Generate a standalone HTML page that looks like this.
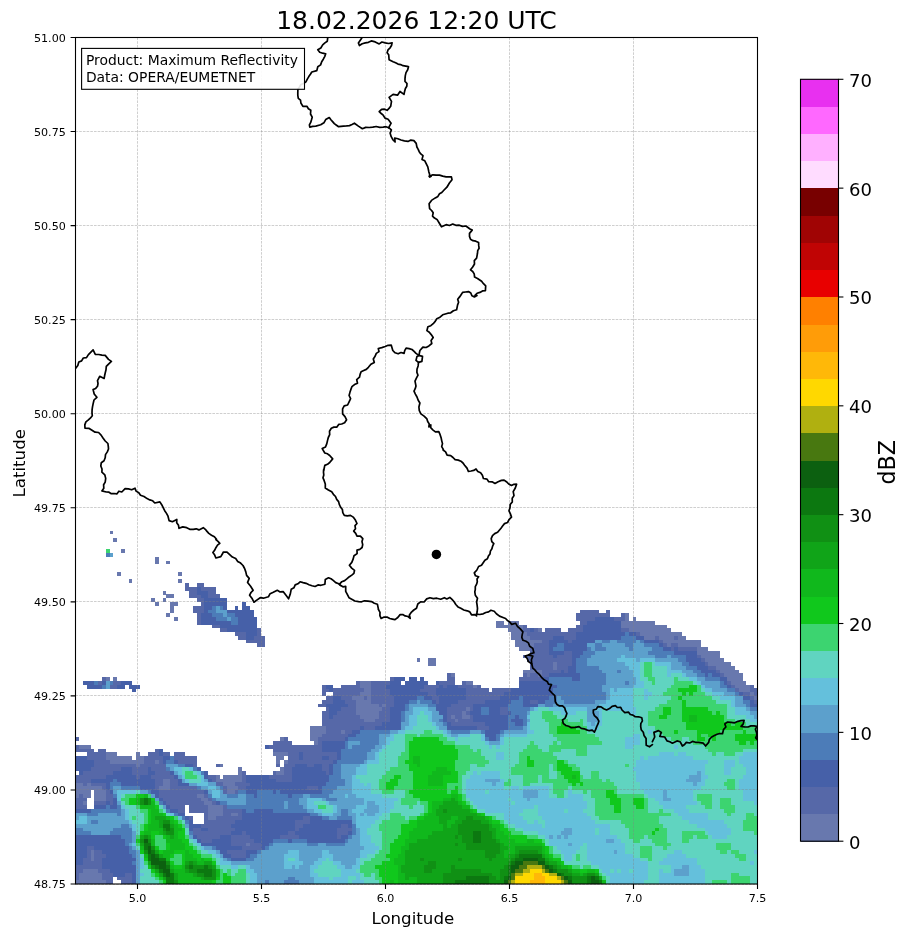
<!DOCTYPE html>
<html lang="en"><head><meta charset="utf-8"><title>Radar Maximum Reflectivity</title>
<style>html,body{margin:0;padding:0;background:#fff}svg{display:block}text{font-family:"DejaVu Sans","Liberation Sans",sans-serif;fill:#000}</style></head><body>
<svg width="908" height="937" viewBox="0 0 908 937">
<rect width="908" height="937" fill="#fff"/>
<defs><clipPath id="ax"><rect x="75.5" y="37.5" width="682.0" height="846.5"/></clipPath></defs>
<g clip-path="url(#ax)" shape-rendering="crispEdges">
<path fill="#6878ae" d="M75.50 880.24h30.32v3.81h-30.32zM79.29 876.48h22.74v3.81h-22.74zM79.29 872.72h22.74v3.81h-22.74zM83.08 868.96h15.16v3.81h-15.16zM90.66 857.68h3.79v3.81h-3.79zM90.66 853.92h3.79v3.81h-3.79zM90.66 850.16h3.79v3.81h-3.79zM246.05 842.64h3.79v3.81h-3.79zM208.15 816.32h7.58v3.81h-7.58zM208.15 812.56h15.16v3.81h-15.16zM230.89 812.56h7.58v3.81h-7.58zM208.15 808.80h15.16v3.81h-15.16zM208.15 805.04h15.16v3.81h-15.16zM83.08 801.28h3.79v3.81h-3.79zM204.36 801.28h7.58v3.81h-7.58zM94.45 797.52h11.37v3.81h-11.37zM200.57 797.52h7.58v3.81h-7.58zM75.50 793.76h3.79v3.81h-3.79zM83.08 793.76h7.58v3.81h-7.58zM94.45 793.76h11.37v3.81h-11.37zM196.78 793.76h7.58v3.81h-7.58zM75.50 790.00h15.16v3.81h-15.16zM94.45 790.00h11.37v3.81h-11.37zM227.10 790.00h7.58v3.81h-7.58zM75.50 786.24h26.53v3.81h-26.53zM158.88 786.24h11.37v3.81h-11.37zM227.10 786.24h11.37v3.81h-11.37zM75.50 782.48h7.58v3.81h-7.58zM86.87 782.48h3.79v3.81h-3.79zM162.67 782.48h7.58v3.81h-7.58zM223.31 782.48h11.37v3.81h-11.37zM162.67 778.72h7.58v3.81h-7.58zM215.73 778.72h26.53v3.81h-26.53zM215.73 774.96h3.79v3.81h-3.79zM223.31 774.96h18.95v3.81h-18.95zM238.47 771.20h3.79v3.81h-3.79zM276.37 771.20h7.58v3.81h-7.58zM238.47 767.44h3.79v3.81h-3.79zM280.16 767.44h3.79v3.81h-3.79zM136.14 763.68h3.79v3.81h-3.79zM219.52 763.68h3.79v3.81h-3.79zM109.61 759.92h34.11v3.81h-34.11zM155.09 759.92h3.79v3.81h-3.79zM276.37 759.92h3.79v3.81h-3.79zM283.95 759.92h3.79v3.81h-3.79zM105.82 756.16h26.53v3.81h-26.53zM136.14 756.16h7.58v3.81h-7.58zM276.37 756.16h7.58v3.81h-7.58zM105.82 752.40h11.37v3.81h-11.37zM136.14 752.40h3.79v3.81h-3.79zM272.58 752.40h15.16v3.81h-15.16zM79.29 744.88h11.37v3.81h-11.37zM314.27 741.12h3.79v3.81h-3.79zM280.16 737.36h3.79v3.81h-3.79zM310.48 737.36h7.58v3.81h-7.58zM310.48 733.60h11.37v3.81h-11.37zM310.48 729.84h15.16v3.81h-15.16zM340.80 729.84h3.79v3.81h-3.79zM310.48 726.08h15.16v3.81h-15.16zM363.54 718.56h11.37v3.81h-11.37zM454.50 718.56h3.79v3.81h-3.79zM359.75 714.80h18.95v3.81h-18.95zM450.71 714.80h3.79v3.81h-3.79zM462.08 714.80h7.58v3.81h-7.58zM355.96 711.04h22.74v3.81h-22.74zM462.08 711.04h3.79v3.81h-3.79zM355.96 707.28h26.53v3.81h-26.53zM465.87 707.28h3.79v3.81h-3.79zM355.96 703.52h22.74v3.81h-22.74zM382.49 703.52h3.79v3.81h-3.79zM355.96 699.76h15.16v3.81h-15.16zM352.17 696.00h11.37v3.81h-11.37zM367.33 696.00h3.79v3.81h-3.79zM753.91 696.00h3.79v3.81h-3.79zM359.75 692.24h11.37v3.81h-11.37zM750.12 692.24h3.79v3.81h-3.79zM363.54 688.48h7.58v3.81h-7.58zM738.75 688.48h11.37v3.81h-11.37zM359.75 684.72h11.37v3.81h-11.37zM473.45 684.72h3.79v3.81h-3.79zM734.96 684.72h15.16v3.81h-15.16zM359.75 680.96h11.37v3.81h-11.37zM465.87 680.96h7.58v3.81h-7.58zM731.17 680.96h15.16v3.81h-15.16zM105.82 677.20h3.79v3.81h-3.79zM113.40 677.20h3.79v3.81h-3.79zM727.38 677.20h15.16v3.81h-15.16zM450.71 673.44h3.79v3.81h-3.79zM526.51 673.44h3.79v3.81h-3.79zM537.88 673.44h3.79v3.81h-3.79zM723.59 673.44h18.95v3.81h-18.95zM522.72 669.68h18.95v3.81h-18.95zM719.80 669.68h18.95v3.81h-18.95zM553.04 665.92h3.79v3.81h-3.79zM716.01 665.92h18.95v3.81h-18.95zM427.97 662.16h7.58v3.81h-7.58zM553.04 662.16h3.79v3.81h-3.79zM708.43 662.16h22.74v3.81h-22.74zM416.60 658.40h3.79v3.81h-3.79zM427.97 658.40h7.58v3.81h-7.58zM704.64 658.40h18.95v3.81h-18.95zM700.85 654.64h18.95v3.81h-18.95zM697.06 650.88h22.74v3.81h-22.74zM518.93 647.12h11.37v3.81h-11.37zM697.06 647.12h11.37v3.81h-11.37zM515.14 643.36h18.95v3.81h-18.95zM666.74 643.36h3.79v3.81h-3.79zM678.11 643.36h22.74v3.81h-22.74zM515.14 639.60h26.53v3.81h-26.53zM662.95 639.60h37.90v3.81h-37.90zM511.35 635.84h18.95v3.81h-18.95zM644.00 635.84h11.37v3.81h-11.37zM659.16 635.84h15.16v3.81h-15.16zM678.11 635.84h7.58v3.81h-7.58zM511.35 632.08h15.16v3.81h-15.16zM640.21 632.08h41.69v3.81h-41.69zM507.56 628.32h15.16v3.81h-15.16zM537.88 628.32h3.79v3.81h-3.79zM628.84 628.32h41.69v3.81h-41.69zM496.19 624.56h26.53v3.81h-26.53zM621.26 624.56h45.48v3.81h-45.48zM496.19 620.80h7.58v3.81h-7.58zM507.56 620.80h11.37v3.81h-11.37zM621.26 620.80h34.11v3.81h-34.11zM174.04 617.04h3.79v3.81h-3.79zM625.05 617.04h3.79v3.81h-3.79zM632.63 617.04h3.79v3.81h-3.79zM166.46 613.28h3.79v3.81h-3.79zM625.05 613.28h3.79v3.81h-3.79zM170.25 609.52h3.79v3.81h-3.79zM170.25 605.76h3.79v3.81h-3.79zM155.09 602.00h3.79v3.81h-3.79zM170.25 602.00h7.58v3.81h-7.58zM151.30 598.24h3.79v3.81h-3.79zM162.67 598.24h3.79v3.81h-3.79zM166.46 594.48h7.58v3.81h-7.58zM162.67 590.72h3.79v3.81h-3.79zM128.56 579.44h3.79v3.81h-3.79zM177.83 579.44h3.79v3.81h-3.79zM117.19 571.92h3.79v3.81h-3.79zM177.83 571.92h3.79v3.81h-3.79zM155.09 560.64h3.79v3.81h-3.79zM166.46 560.64h3.79v3.81h-3.79zM155.09 556.88h3.79v3.81h-3.79zM120.98 549.36h3.79v3.81h-3.79zM113.40 538.08h3.79v3.81h-3.79zM109.61 530.56h3.79v3.81h-3.79z"/>
<path fill="#5668a8" d="M105.82 880.24h7.58v3.81h-7.58zM120.98 880.24h11.37v3.81h-11.37zM75.50 876.48h3.79v3.81h-3.79zM102.03 876.48h11.37v3.81h-11.37zM117.19 876.48h15.16v3.81h-15.16zM75.50 872.72h3.79v3.81h-3.79zM102.03 872.72h11.37v3.81h-11.37zM124.77 872.72h7.58v3.81h-7.58zM75.50 868.96h7.58v3.81h-7.58zM98.24 868.96h11.37v3.81h-11.37zM75.50 865.20h26.53v3.81h-26.53zM83.08 861.44h18.95v3.81h-18.95zM83.08 857.68h7.58v3.81h-7.58zM94.45 857.68h7.58v3.81h-7.58zM86.87 853.92h3.79v3.81h-3.79zM94.45 853.92h11.37v3.81h-11.37zM230.89 853.92h15.16v3.81h-15.16zM86.87 850.16h3.79v3.81h-3.79zM94.45 850.16h7.58v3.81h-7.58zM227.10 850.16h18.95v3.81h-18.95zM86.87 846.40h7.58v3.81h-7.58zM242.26 846.40h18.95v3.81h-18.95zM230.89 842.64h15.16v3.81h-15.16zM249.84 842.64h11.37v3.81h-11.37zM200.57 838.88h11.37v3.81h-11.37zM230.89 838.88h22.74v3.81h-22.74zM196.78 835.12h22.74v3.81h-22.74zM230.89 835.12h18.95v3.81h-18.95zM280.16 835.12h18.95v3.81h-18.95zM337.01 835.12h3.79v3.81h-3.79zM192.99 831.36h37.90v3.81h-37.90zM242.26 831.36h3.79v3.81h-3.79zM287.74 831.36h7.58v3.81h-7.58zM337.01 831.36h11.37v3.81h-11.37zM192.99 827.60h7.58v3.81h-7.58zM208.15 827.60h26.53v3.81h-26.53zM295.32 827.60h3.79v3.81h-3.79zM337.01 827.60h15.16v3.81h-15.16zM200.57 823.84h30.32v3.81h-30.32zM295.32 823.84h7.58v3.81h-7.58zM340.80 823.84h7.58v3.81h-7.58zM204.36 820.08h30.32v3.81h-30.32zM295.32 820.08h15.16v3.81h-15.16zM189.20 816.32h3.79v3.81h-3.79zM204.36 816.32h3.79v3.81h-3.79zM215.73 816.32h26.53v3.81h-26.53zM302.90 816.32h7.58v3.81h-7.58zM204.36 812.56h3.79v3.81h-3.79zM223.31 812.56h7.58v3.81h-7.58zM238.47 812.56h3.79v3.81h-3.79zM177.83 808.80h7.58v3.81h-7.58zM189.20 808.80h18.95v3.81h-18.95zM223.31 808.80h18.95v3.81h-18.95zM75.50 805.04h11.37v3.81h-11.37zM170.25 805.04h15.16v3.81h-15.16zM189.20 805.04h18.95v3.81h-18.95zM223.31 805.04h3.79v3.81h-3.79zM75.50 801.28h7.58v3.81h-7.58zM94.45 801.28h11.37v3.81h-11.37zM109.61 801.28h3.79v3.81h-3.79zM166.46 801.28h37.90v3.81h-37.90zM211.94 801.28h3.79v3.81h-3.79zM75.50 797.52h11.37v3.81h-11.37zM105.82 797.52h7.58v3.81h-7.58zM162.67 797.52h37.90v3.81h-37.90zM208.15 797.52h3.79v3.81h-3.79zM79.29 793.76h3.79v3.81h-3.79zM105.82 793.76h7.58v3.81h-7.58zM158.88 793.76h37.90v3.81h-37.90zM204.36 793.76h3.79v3.81h-3.79zM105.82 790.00h3.79v3.81h-3.79zM158.88 790.00h45.48v3.81h-45.48zM223.31 790.00h3.79v3.81h-3.79zM234.68 790.00h3.79v3.81h-3.79zM102.03 786.24h3.79v3.81h-3.79zM155.09 786.24h3.79v3.81h-3.79zM170.25 786.24h26.53v3.81h-26.53zM223.31 786.24h3.79v3.81h-3.79zM238.47 786.24h7.58v3.81h-7.58zM306.69 786.24h11.37v3.81h-11.37zM83.08 782.48h3.79v3.81h-3.79zM90.66 782.48h15.16v3.81h-15.16zM155.09 782.48h7.58v3.81h-7.58zM170.25 782.48h7.58v3.81h-7.58zM215.73 782.48h7.58v3.81h-7.58zM234.68 782.48h15.16v3.81h-15.16zM75.50 778.72h15.16v3.81h-15.16zM155.09 778.72h7.58v3.81h-7.58zM170.25 778.72h7.58v3.81h-7.58zM211.94 778.72h3.79v3.81h-3.79zM242.26 778.72h3.79v3.81h-3.79zM276.37 778.72h15.16v3.81h-15.16zM75.50 774.96h30.32v3.81h-30.32zM136.14 774.96h3.79v3.81h-3.79zM151.30 774.96h22.74v3.81h-22.74zM208.15 774.96h7.58v3.81h-7.58zM242.26 774.96h3.79v3.81h-3.79zM268.79 774.96h22.74v3.81h-22.74zM83.08 771.20h30.32v3.81h-30.32zM132.35 771.20h15.16v3.81h-15.16zM155.09 771.20h15.16v3.81h-15.16zM242.26 771.20h3.79v3.81h-3.79zM272.58 771.20h3.79v3.81h-3.79zM283.95 771.20h7.58v3.81h-7.58zM325.64 771.20h3.79v3.81h-3.79zM90.66 767.44h30.32v3.81h-30.32zM132.35 767.44h15.16v3.81h-15.16zM151.30 767.44h15.16v3.81h-15.16zM283.95 767.44h7.58v3.81h-7.58zM321.85 767.44h7.58v3.81h-7.58zM94.45 763.68h41.69v3.81h-41.69zM139.93 763.68h26.53v3.81h-26.53zM192.99 763.68h3.79v3.81h-3.79zM215.73 763.68h3.79v3.81h-3.79zM276.37 763.68h3.79v3.81h-3.79zM283.95 763.68h11.37v3.81h-11.37zM306.69 763.68h7.58v3.81h-7.58zM321.85 763.68h7.58v3.81h-7.58zM94.45 759.92h15.16v3.81h-15.16zM143.72 759.92h11.37v3.81h-11.37zM158.88 759.92h3.79v3.81h-3.79zM177.83 759.92h18.95v3.81h-18.95zM287.74 759.92h45.48v3.81h-45.48zM86.87 756.16h18.95v3.81h-18.95zM143.72 756.16h18.95v3.81h-18.95zM174.04 756.16h22.74v3.81h-22.74zM287.74 756.16h11.37v3.81h-11.37zM302.90 756.16h18.95v3.81h-18.95zM329.43 756.16h7.58v3.81h-7.58zM86.87 752.40h18.95v3.81h-18.95zM147.51 752.40h11.37v3.81h-11.37zM162.67 752.40h7.58v3.81h-7.58zM174.04 752.40h11.37v3.81h-11.37zM287.74 752.40h11.37v3.81h-11.37zM302.90 752.40h34.11v3.81h-34.11zM75.50 748.64h18.95v3.81h-18.95zM98.24 748.64h7.58v3.81h-7.58zM155.09 748.64h3.79v3.81h-3.79zM272.58 748.64h49.27v3.81h-49.27zM75.50 744.88h3.79v3.81h-3.79zM268.79 744.88h53.06v3.81h-53.06zM272.58 741.12h18.95v3.81h-18.95zM318.06 741.12h3.79v3.81h-3.79zM75.50 737.36h3.79v3.81h-3.79zM283.95 737.36h3.79v3.81h-3.79zM318.06 737.36h26.53v3.81h-26.53zM321.85 733.60h26.53v3.81h-26.53zM325.64 729.84h15.16v3.81h-15.16zM344.59 729.84h7.58v3.81h-7.58zM325.64 726.08h34.11v3.81h-34.11zM363.54 726.08h11.37v3.81h-11.37zM477.24 726.08h11.37v3.81h-11.37zM321.85 722.32h60.64v3.81h-60.64zM450.71 722.32h34.11v3.81h-34.11zM321.85 718.56h41.69v3.81h-41.69zM374.91 718.56h15.16v3.81h-15.16zM446.92 718.56h7.58v3.81h-7.58zM458.29 718.56h15.16v3.81h-15.16zM321.85 714.80h7.58v3.81h-7.58zM333.22 714.80h26.53v3.81h-26.53zM378.70 714.80h11.37v3.81h-11.37zM446.92 714.80h3.79v3.81h-3.79zM454.50 714.80h7.58v3.81h-7.58zM469.66 714.80h3.79v3.81h-3.79zM321.85 711.04h7.58v3.81h-7.58zM337.01 711.04h18.95v3.81h-18.95zM378.70 711.04h11.37v3.81h-11.37zM446.92 711.04h15.16v3.81h-15.16zM465.87 711.04h3.79v3.81h-3.79zM499.98 711.04h7.58v3.81h-7.58zM325.64 707.28h3.79v3.81h-3.79zM340.80 707.28h15.16v3.81h-15.16zM382.49 707.28h7.58v3.81h-7.58zM446.92 707.28h18.95v3.81h-18.95zM469.66 707.28h3.79v3.81h-3.79zM499.98 707.28h7.58v3.81h-7.58zM318.06 703.52h7.58v3.81h-7.58zM348.38 703.52h7.58v3.81h-7.58zM378.70 703.52h3.79v3.81h-3.79zM386.28 703.52h7.58v3.81h-7.58zM450.71 703.52h22.74v3.81h-22.74zM321.85 699.76h11.37v3.81h-11.37zM344.59 699.76h11.37v3.81h-11.37zM371.12 699.76h22.74v3.81h-22.74zM435.55 699.76h3.79v3.81h-3.79zM458.29 699.76h26.53v3.81h-26.53zM530.30 699.76h7.58v3.81h-7.58zM753.91 699.76h3.79v3.81h-3.79zM325.64 696.00h7.58v3.81h-7.58zM340.80 696.00h11.37v3.81h-11.37zM363.54 696.00h3.79v3.81h-3.79zM371.12 696.00h22.74v3.81h-22.74zM431.76 696.00h7.58v3.81h-7.58zM465.87 696.00h34.11v3.81h-34.11zM750.12 696.00h3.79v3.81h-3.79zM321.85 692.24h3.79v3.81h-3.79zM333.22 692.24h26.53v3.81h-26.53zM371.12 692.24h18.95v3.81h-18.95zM427.97 692.24h7.58v3.81h-7.58zM465.87 692.24h37.90v3.81h-37.90zM742.54 692.24h7.58v3.81h-7.58zM753.91 692.24h3.79v3.81h-3.79zM321.85 688.48h7.58v3.81h-7.58zM333.22 688.48h30.32v3.81h-30.32zM371.12 688.48h18.95v3.81h-18.95zM420.39 688.48h15.16v3.81h-15.16zM465.87 688.48h22.74v3.81h-22.74zM492.40 688.48h18.95v3.81h-18.95zM734.96 688.48h3.79v3.81h-3.79zM750.12 688.48h7.58v3.81h-7.58zM109.61 684.72h7.58v3.81h-7.58zM321.85 684.72h3.79v3.81h-3.79zM340.80 684.72h18.95v3.81h-18.95zM371.12 684.72h15.16v3.81h-15.16zM424.18 684.72h15.16v3.81h-15.16zM443.13 684.72h3.79v3.81h-3.79zM458.29 684.72h15.16v3.81h-15.16zM477.24 684.72h3.79v3.81h-3.79zM731.17 684.72h3.79v3.81h-3.79zM750.12 684.72h3.79v3.81h-3.79zM98.24 680.96h3.79v3.81h-3.79zM113.40 680.96h7.58v3.81h-7.58zM355.96 680.96h3.79v3.81h-3.79zM371.12 680.96h18.95v3.81h-18.95zM439.34 680.96h15.16v3.81h-15.16zM462.08 680.96h3.79v3.81h-3.79zM727.38 680.96h3.79v3.81h-3.79zM102.03 677.20h3.79v3.81h-3.79zM390.07 677.20h3.79v3.81h-3.79zM446.92 677.20h7.58v3.81h-7.58zM518.93 677.20h22.74v3.81h-22.74zM446.92 673.44h3.79v3.81h-3.79zM522.72 673.44h3.79v3.81h-3.79zM530.30 673.44h7.58v3.81h-7.58zM541.67 673.44h7.58v3.81h-7.58zM719.80 673.44h3.79v3.81h-3.79zM541.67 669.68h18.95v3.81h-18.95zM564.41 669.68h3.79v3.81h-3.79zM716.01 669.68h3.79v3.81h-3.79zM530.30 665.92h22.74v3.81h-22.74zM556.83 665.92h11.37v3.81h-11.37zM708.43 665.92h7.58v3.81h-7.58zM530.30 662.16h22.74v3.81h-22.74zM556.83 662.16h15.16v3.81h-15.16zM704.64 662.16h3.79v3.81h-3.79zM526.51 658.40h45.48v3.81h-45.48zM700.85 658.40h3.79v3.81h-3.79zM522.72 654.64h30.32v3.81h-30.32zM556.83 654.64h15.16v3.81h-15.16zM697.06 654.64h3.79v3.81h-3.79zM530.30 650.88h18.95v3.81h-18.95zM564.41 650.88h7.58v3.81h-7.58zM530.30 647.12h18.95v3.81h-18.95zM670.53 647.12h3.79v3.81h-3.79zM678.11 647.12h18.95v3.81h-18.95zM257.42 643.36h7.58v3.81h-7.58zM534.09 643.36h15.16v3.81h-15.16zM662.95 643.36h3.79v3.81h-3.79zM670.53 643.36h7.58v3.81h-7.58zM246.05 639.60h18.95v3.81h-18.95zM541.67 639.60h7.58v3.81h-7.58zM568.20 639.60h3.79v3.81h-3.79zM659.16 639.60h3.79v3.81h-3.79zM238.47 635.84h7.58v3.81h-7.58zM253.63 635.84h11.37v3.81h-11.37zM530.30 635.84h22.74v3.81h-22.74zM564.41 635.84h11.37v3.81h-11.37zM655.37 635.84h3.79v3.81h-3.79zM674.32 635.84h3.79v3.81h-3.79zM234.68 632.08h11.37v3.81h-11.37zM257.42 632.08h3.79v3.81h-3.79zM526.51 632.08h49.27v3.81h-49.27zM636.42 632.08h3.79v3.81h-3.79zM219.52 628.32h7.58v3.81h-7.58zM257.42 628.32h3.79v3.81h-3.79zM522.72 628.32h7.58v3.81h-7.58zM534.09 628.32h3.79v3.81h-3.79zM545.46 628.32h15.16v3.81h-15.16zM568.20 628.32h15.16v3.81h-15.16zM621.26 628.32h7.58v3.81h-7.58zM211.94 624.56h7.58v3.81h-7.58zM522.72 624.56h3.79v3.81h-3.79zM575.78 624.56h7.58v3.81h-7.58zM196.78 620.80h3.79v3.81h-3.79zM579.57 620.80h7.58v3.81h-7.58zM196.78 617.04h3.79v3.81h-3.79zM575.78 617.04h18.95v3.81h-18.95zM613.68 617.04h11.37v3.81h-11.37zM196.78 613.28h3.79v3.81h-3.79zM575.78 613.28h34.11v3.81h-34.11zM621.26 613.28h3.79v3.81h-3.79zM192.99 609.52h11.37v3.81h-11.37zM579.57 609.52h18.95v3.81h-18.95zM606.10 609.52h3.79v3.81h-3.79zM192.99 605.76h11.37v3.81h-11.37zM200.57 602.00h3.79v3.81h-3.79zM196.78 598.24h7.58v3.81h-7.58zM189.20 594.48h11.37v3.81h-11.37zM208.15 594.48h11.37v3.81h-11.37zM189.20 590.72h7.58v3.81h-7.58zM208.15 590.72h7.58v3.81h-7.58zM185.41 586.96h11.37v3.81h-11.37zM200.57 586.96h15.16v3.81h-15.16zM185.41 583.20h3.79v3.81h-3.79zM196.78 583.20h7.58v3.81h-7.58z"/>
<path fill="#4660a8" d="M132.35 880.24h3.79v3.81h-3.79zM132.35 876.48h3.79v3.81h-3.79zM113.40 872.72h11.37v3.81h-11.37zM132.35 872.72h3.79v3.81h-3.79zM109.61 868.96h26.53v3.81h-26.53zM102.03 865.20h34.11v3.81h-34.11zM75.50 861.44h7.58v3.81h-7.58zM102.03 861.44h30.32v3.81h-30.32zM75.50 857.68h7.58v3.81h-7.58zM102.03 857.68h34.11v3.81h-34.11zM230.89 857.68h15.16v3.81h-15.16zM75.50 853.92h11.37v3.81h-11.37zM105.82 853.92h26.53v3.81h-26.53zM223.31 853.92h7.58v3.81h-7.58zM246.05 853.92h3.79v3.81h-3.79zM75.50 850.16h11.37v3.81h-11.37zM102.03 850.16h26.53v3.81h-26.53zM219.52 850.16h7.58v3.81h-7.58zM246.05 850.16h11.37v3.81h-11.37zM75.50 846.40h11.37v3.81h-11.37zM94.45 846.40h34.11v3.81h-34.11zM215.73 846.40h26.53v3.81h-26.53zM261.21 846.40h3.79v3.81h-3.79zM75.50 842.64h49.27v3.81h-49.27zM200.57 842.64h30.32v3.81h-30.32zM261.21 842.64h7.58v3.81h-7.58zM75.50 838.88h49.27v3.81h-49.27zM196.78 838.88h3.79v3.81h-3.79zM211.94 838.88h18.95v3.81h-18.95zM253.63 838.88h18.95v3.81h-18.95zM287.74 838.88h3.79v3.81h-3.79zM306.69 838.88h37.90v3.81h-37.90zM75.50 835.12h45.48v3.81h-45.48zM192.99 835.12h3.79v3.81h-3.79zM219.52 835.12h11.37v3.81h-11.37zM249.84 835.12h30.32v3.81h-30.32zM299.11 835.12h37.90v3.81h-37.90zM340.80 835.12h7.58v3.81h-7.58zM230.89 831.36h11.37v3.81h-11.37zM246.05 831.36h41.69v3.81h-41.69zM295.32 831.36h41.69v3.81h-41.69zM348.38 831.36h3.79v3.81h-3.79zM189.20 827.60h3.79v3.81h-3.79zM200.57 827.60h7.58v3.81h-7.58zM234.68 827.60h60.64v3.81h-60.64zM299.11 827.60h37.90v3.81h-37.90zM189.20 823.84h11.37v3.81h-11.37zM230.89 823.84h64.43v3.81h-64.43zM302.90 823.84h37.90v3.81h-37.90zM348.38 823.84h3.79v3.81h-3.79zM189.20 820.08h3.79v3.81h-3.79zM234.68 820.08h60.64v3.81h-60.64zM310.48 820.08h41.69v3.81h-41.69zM185.41 816.32h3.79v3.81h-3.79zM242.26 816.32h60.64v3.81h-60.64zM310.48 816.32h11.37v3.81h-11.37zM177.83 812.56h7.58v3.81h-7.58zM242.26 812.56h68.22v3.81h-68.22zM75.50 808.80h15.16v3.81h-15.16zM170.25 808.80h7.58v3.81h-7.58zM242.26 808.80h3.79v3.81h-3.79zM253.63 808.80h18.95v3.81h-18.95zM94.45 805.04h11.37v3.81h-11.37zM109.61 805.04h7.58v3.81h-7.58zM166.46 805.04h3.79v3.81h-3.79zM105.82 801.28h3.79v3.81h-3.79zM113.40 801.28h3.79v3.81h-3.79zM162.67 801.28h3.79v3.81h-3.79zM215.73 801.28h3.79v3.81h-3.79zM113.40 797.52h3.79v3.81h-3.79zM158.88 797.52h3.79v3.81h-3.79zM155.09 793.76h3.79v3.81h-3.79zM253.63 793.76h3.79v3.81h-3.79zM287.74 793.76h3.79v3.81h-3.79zM109.61 790.00h3.79v3.81h-3.79zM151.30 790.00h7.58v3.81h-7.58zM204.36 790.00h3.79v3.81h-3.79zM246.05 790.00h11.37v3.81h-11.37zM272.58 790.00h3.79v3.81h-3.79zM280.16 790.00h41.69v3.81h-41.69zM105.82 786.24h3.79v3.81h-3.79zM139.93 786.24h15.16v3.81h-15.16zM246.05 786.24h60.64v3.81h-60.64zM318.06 786.24h3.79v3.81h-3.79zM105.82 782.48h3.79v3.81h-3.79zM120.98 782.48h34.11v3.81h-34.11zM177.83 782.48h11.37v3.81h-11.37zM249.84 782.48h75.80v3.81h-75.80zM90.66 778.72h22.74v3.81h-22.74zM117.19 778.72h37.90v3.81h-37.90zM177.83 778.72h3.79v3.81h-3.79zM208.15 778.72h3.79v3.81h-3.79zM246.05 778.72h30.32v3.81h-30.32zM291.53 778.72h37.90v3.81h-37.90zM105.82 774.96h30.32v3.81h-30.32zM139.93 774.96h11.37v3.81h-11.37zM174.04 774.96h3.79v3.81h-3.79zM204.36 774.96h3.79v3.81h-3.79zM246.05 774.96h22.74v3.81h-22.74zM291.53 774.96h37.90v3.81h-37.90zM79.29 771.20h3.79v3.81h-3.79zM113.40 771.20h18.95v3.81h-18.95zM147.51 771.20h7.58v3.81h-7.58zM170.25 771.20h3.79v3.81h-3.79zM204.36 771.20h3.79v3.81h-3.79zM291.53 771.20h34.11v3.81h-34.11zM329.43 771.20h3.79v3.81h-3.79zM75.50 767.44h15.16v3.81h-15.16zM120.98 767.44h11.37v3.81h-11.37zM147.51 767.44h3.79v3.81h-3.79zM196.78 767.44h3.79v3.81h-3.79zM291.53 767.44h30.32v3.81h-30.32zM329.43 767.44h3.79v3.81h-3.79zM75.50 763.68h18.95v3.81h-18.95zM185.41 763.68h7.58v3.81h-7.58zM295.32 763.68h11.37v3.81h-11.37zM314.27 763.68h7.58v3.81h-7.58zM329.43 763.68h3.79v3.81h-3.79zM75.50 759.92h18.95v3.81h-18.95zM162.67 759.92h3.79v3.81h-3.79zM174.04 759.92h3.79v3.81h-3.79zM333.22 759.92h3.79v3.81h-3.79zM75.50 756.16h11.37v3.81h-11.37zM162.67 756.16h7.58v3.81h-7.58zM299.11 756.16h3.79v3.81h-3.79zM321.85 756.16h7.58v3.81h-7.58zM337.01 756.16h3.79v3.81h-3.79zM158.88 752.40h3.79v3.81h-3.79zM299.11 752.40h3.79v3.81h-3.79zM337.01 752.40h3.79v3.81h-3.79zM158.88 748.64h3.79v3.81h-3.79zM321.85 748.64h18.95v3.81h-18.95zM265.00 744.88h3.79v3.81h-3.79zM321.85 744.88h22.74v3.81h-22.74zM321.85 741.12h22.74v3.81h-22.74zM344.59 737.36h3.79v3.81h-3.79zM488.61 737.36h7.58v3.81h-7.58zM348.38 733.60h7.58v3.81h-7.58zM484.82 733.60h11.37v3.81h-11.37zM352.17 729.84h7.58v3.81h-7.58zM484.82 729.84h15.16v3.81h-15.16zM359.75 726.08h3.79v3.81h-3.79zM374.91 726.08h26.53v3.81h-26.53zM446.92 726.08h30.32v3.81h-30.32zM488.61 726.08h18.95v3.81h-18.95zM382.49 722.32h18.95v3.81h-18.95zM446.92 722.32h3.79v3.81h-3.79zM484.82 722.32h22.74v3.81h-22.74zM515.14 722.32h7.58v3.81h-7.58zM390.07 718.56h11.37v3.81h-11.37zM443.13 718.56h3.79v3.81h-3.79zM473.45 718.56h34.11v3.81h-34.11zM511.35 718.56h11.37v3.81h-11.37zM329.43 714.80h3.79v3.81h-3.79zM390.07 714.80h11.37v3.81h-11.37zM443.13 714.80h3.79v3.81h-3.79zM473.45 714.80h34.11v3.81h-34.11zM515.14 714.80h3.79v3.81h-3.79zM329.43 711.04h7.58v3.81h-7.58zM390.07 711.04h11.37v3.81h-11.37zM439.34 711.04h7.58v3.81h-7.58zM469.66 711.04h11.37v3.81h-11.37zM488.61 711.04h11.37v3.81h-11.37zM507.56 711.04h3.79v3.81h-3.79zM329.43 707.28h11.37v3.81h-11.37zM390.07 707.28h15.16v3.81h-15.16zM435.55 707.28h11.37v3.81h-11.37zM473.45 707.28h7.58v3.81h-7.58zM488.61 707.28h11.37v3.81h-11.37zM325.64 703.52h22.74v3.81h-22.74zM393.86 703.52h11.37v3.81h-11.37zM435.55 703.52h15.16v3.81h-15.16zM473.45 703.52h34.11v3.81h-34.11zM522.72 703.52h15.16v3.81h-15.16zM750.12 703.52h7.58v3.81h-7.58zM333.22 699.76h11.37v3.81h-11.37zM393.86 699.76h15.16v3.81h-15.16zM431.76 699.76h3.79v3.81h-3.79zM439.34 699.76h18.95v3.81h-18.95zM484.82 699.76h26.53v3.81h-26.53zM522.72 699.76h7.58v3.81h-7.58zM537.88 699.76h7.58v3.81h-7.58zM750.12 699.76h3.79v3.81h-3.79zM333.22 696.00h7.58v3.81h-7.58zM393.86 696.00h22.74v3.81h-22.74zM424.18 696.00h7.58v3.81h-7.58zM439.34 696.00h26.53v3.81h-26.53zM499.98 696.00h18.95v3.81h-18.95zM522.72 696.00h26.53v3.81h-26.53zM742.54 696.00h7.58v3.81h-7.58zM390.07 692.24h37.90v3.81h-37.90zM435.55 692.24h30.32v3.81h-30.32zM503.77 692.24h49.27v3.81h-49.27zM738.75 692.24h3.79v3.81h-3.79zM132.35 688.48h3.79v3.81h-3.79zM329.43 688.48h3.79v3.81h-3.79zM390.07 688.48h30.32v3.81h-30.32zM435.55 688.48h30.32v3.81h-30.32zM511.35 688.48h41.69v3.81h-41.69zM86.87 684.72h15.16v3.81h-15.16zM117.19 684.72h7.58v3.81h-7.58zM128.56 684.72h11.37v3.81h-11.37zM325.64 684.72h7.58v3.81h-7.58zM386.28 684.72h37.90v3.81h-37.90zM439.34 684.72h3.79v3.81h-3.79zM446.92 684.72h11.37v3.81h-11.37zM518.93 684.72h37.90v3.81h-37.90zM727.38 684.72h3.79v3.81h-3.79zM83.08 680.96h11.37v3.81h-11.37zM102.03 680.96h3.79v3.81h-3.79zM120.98 680.96h11.37v3.81h-11.37zM390.07 680.96h11.37v3.81h-11.37zM405.23 680.96h22.74v3.81h-22.74zM435.55 680.96h3.79v3.81h-3.79zM518.93 680.96h30.32v3.81h-30.32zM723.59 680.96h3.79v3.81h-3.79zM393.86 677.20h11.37v3.81h-11.37zM409.02 677.20h7.58v3.81h-7.58zM420.39 677.20h3.79v3.81h-3.79zM541.67 677.20h7.58v3.81h-7.58zM571.99 677.20h7.58v3.81h-7.58zM719.80 677.20h7.58v3.81h-7.58zM549.25 673.44h30.32v3.81h-30.32zM704.64 673.44h3.79v3.81h-3.79zM712.22 673.44h7.58v3.81h-7.58zM560.62 669.68h3.79v3.81h-3.79zM568.20 669.68h7.58v3.81h-7.58zM700.85 669.68h15.16v3.81h-15.16zM568.20 665.92h7.58v3.81h-7.58zM697.06 665.92h11.37v3.81h-11.37zM571.99 662.16h3.79v3.81h-3.79zM689.48 662.16h15.16v3.81h-15.16zM571.99 658.40h3.79v3.81h-3.79zM685.69 658.40h15.16v3.81h-15.16zM553.04 654.64h3.79v3.81h-3.79zM571.99 654.64h7.58v3.81h-7.58zM685.69 654.64h11.37v3.81h-11.37zM549.25 650.88h15.16v3.81h-15.16zM571.99 650.88h11.37v3.81h-11.37zM674.32 650.88h22.74v3.81h-22.74zM549.25 647.12h3.79v3.81h-3.79zM564.41 647.12h22.74v3.81h-22.74zM662.95 647.12h7.58v3.81h-7.58zM674.32 647.12h3.79v3.81h-3.79zM549.25 643.36h7.58v3.81h-7.58zM564.41 643.36h22.74v3.81h-22.74zM659.16 643.36h3.79v3.81h-3.79zM549.25 639.60h18.95v3.81h-18.95zM571.99 639.60h22.74v3.81h-22.74zM644.00 639.60h15.16v3.81h-15.16zM246.05 635.84h7.58v3.81h-7.58zM553.04 635.84h11.37v3.81h-11.37zM575.78 635.84h45.48v3.81h-45.48zM636.42 635.84h7.58v3.81h-7.58zM246.05 632.08h11.37v3.81h-11.37zM575.78 632.08h49.27v3.81h-49.27zM628.84 632.08h7.58v3.81h-7.58zM227.10 628.32h30.32v3.81h-30.32zM530.30 628.32h3.79v3.81h-3.79zM583.36 628.32h37.90v3.81h-37.90zM219.52 624.56h37.90v3.81h-37.90zM583.36 624.56h37.90v3.81h-37.90zM200.57 620.80h30.32v3.81h-30.32zM238.47 620.80h18.95v3.81h-18.95zM587.15 620.80h34.11v3.81h-34.11zM200.57 617.04h15.16v3.81h-15.16zM238.47 617.04h18.95v3.81h-18.95zM594.73 617.04h18.95v3.81h-18.95zM200.57 613.28h11.37v3.81h-11.37zM234.68 613.28h18.95v3.81h-18.95zM204.36 609.52h3.79v3.81h-3.79zM227.10 609.52h26.53v3.81h-26.53zM204.36 605.76h7.58v3.81h-7.58zM223.31 605.76h3.79v3.81h-3.79zM234.68 605.76h3.79v3.81h-3.79zM242.26 605.76h7.58v3.81h-7.58zM204.36 602.00h22.74v3.81h-22.74zM242.26 602.00h3.79v3.81h-3.79zM204.36 598.24h22.74v3.81h-22.74zM200.57 594.48h7.58v3.81h-7.58zM196.78 590.72h11.37v3.81h-11.37zM196.78 586.96h3.79v3.81h-3.79z"/>
<path fill="#4c7cb8" d="M265.00 880.24h3.79v3.81h-3.79zM283.95 880.24h15.16v3.81h-15.16zM287.74 876.48h7.58v3.81h-7.58zM132.35 861.44h3.79v3.81h-3.79zM227.10 857.68h3.79v3.81h-3.79zM246.05 857.68h7.58v3.81h-7.58zM132.35 853.92h3.79v3.81h-3.79zM249.84 853.92h7.58v3.81h-7.58zM128.56 850.16h7.58v3.81h-7.58zM257.42 850.16h3.79v3.81h-3.79zM128.56 846.40h3.79v3.81h-3.79zM211.94 846.40h3.79v3.81h-3.79zM265.00 846.40h3.79v3.81h-3.79zM124.77 842.64h3.79v3.81h-3.79zM268.79 842.64h3.79v3.81h-3.79zM306.69 842.64h11.37v3.81h-11.37zM325.64 842.64h18.95v3.81h-18.95zM124.77 838.88h7.58v3.81h-7.58zM272.58 838.88h15.16v3.81h-15.16zM291.53 838.88h15.16v3.81h-15.16zM344.59 838.88h3.79v3.81h-3.79zM120.98 835.12h11.37v3.81h-11.37zM348.38 835.12h3.79v3.81h-3.79zM75.50 831.36h15.16v3.81h-15.16zM109.61 831.36h22.74v3.81h-22.74zM189.20 831.36h3.79v3.81h-3.79zM352.17 831.36h3.79v3.81h-3.79zM75.50 827.60h7.58v3.81h-7.58zM113.40 827.60h18.95v3.81h-18.95zM352.17 827.60h3.79v3.81h-3.79zM120.98 823.84h7.58v3.81h-7.58zM352.17 823.84h3.79v3.81h-3.79zM90.66 820.08h7.58v3.81h-7.58zM185.41 820.08h3.79v3.81h-3.79zM181.62 816.32h3.79v3.81h-3.79zM321.85 816.32h7.58v3.81h-7.58zM337.01 816.32h15.16v3.81h-15.16zM86.87 812.56h11.37v3.81h-11.37zM117.19 812.56h3.79v3.81h-3.79zM174.04 812.56h3.79v3.81h-3.79zM310.48 812.56h7.58v3.81h-7.58zM340.80 812.56h7.58v3.81h-7.58zM90.66 808.80h30.32v3.81h-30.32zM166.46 808.80h3.79v3.81h-3.79zM246.05 808.80h7.58v3.81h-7.58zM272.58 808.80h34.11v3.81h-34.11zM340.80 808.80h7.58v3.81h-7.58zM105.82 805.04h3.79v3.81h-3.79zM117.19 805.04h3.79v3.81h-3.79zM227.10 805.04h56.85v3.81h-56.85zM287.74 805.04h15.16v3.81h-15.16zM158.88 801.28h3.79v3.81h-3.79zM219.52 801.28h7.58v3.81h-7.58zM246.05 801.28h37.90v3.81h-37.90zM287.74 801.28h11.37v3.81h-11.37zM211.94 797.52h3.79v3.81h-3.79zM246.05 797.52h53.06v3.81h-53.06zM325.64 797.52h11.37v3.81h-11.37zM113.40 793.76h3.79v3.81h-3.79zM208.15 793.76h3.79v3.81h-3.79zM227.10 793.76h11.37v3.81h-11.37zM246.05 793.76h7.58v3.81h-7.58zM257.42 793.76h30.32v3.81h-30.32zM291.53 793.76h11.37v3.81h-11.37zM310.48 793.76h18.95v3.81h-18.95zM147.51 790.00h3.79v3.81h-3.79zM238.47 790.00h7.58v3.81h-7.58zM257.42 790.00h15.16v3.81h-15.16zM276.37 790.00h3.79v3.81h-3.79zM321.85 790.00h11.37v3.81h-11.37zM109.61 786.24h3.79v3.81h-3.79zM120.98 786.24h18.95v3.81h-18.95zM196.78 786.24h3.79v3.81h-3.79zM219.52 786.24h3.79v3.81h-3.79zM321.85 786.24h15.16v3.81h-15.16zM109.61 782.48h11.37v3.81h-11.37zM325.64 782.48h18.95v3.81h-18.95zM113.40 778.72h3.79v3.81h-3.79zM329.43 778.72h15.16v3.81h-15.16zM329.43 774.96h11.37v3.81h-11.37zM200.57 771.20h3.79v3.81h-3.79zM333.22 771.20h7.58v3.81h-7.58zM166.46 767.44h3.79v3.81h-3.79zM192.99 767.44h3.79v3.81h-3.79zM333.22 767.44h7.58v3.81h-7.58zM177.83 763.68h7.58v3.81h-7.58zM333.22 763.68h7.58v3.81h-7.58zM166.46 759.92h7.58v3.81h-7.58zM337.01 759.92h26.53v3.81h-26.53zM170.25 756.16h3.79v3.81h-3.79zM340.80 756.16h26.53v3.81h-26.53zM340.80 752.40h26.53v3.81h-26.53zM340.80 748.64h30.32v3.81h-30.32zM344.59 744.88h3.79v3.81h-3.79zM352.17 744.88h22.74v3.81h-22.74zM344.59 741.12h3.79v3.81h-3.79zM359.75 741.12h18.95v3.81h-18.95zM348.38 737.36h30.32v3.81h-30.32zM484.82 737.36h3.79v3.81h-3.79zM496.19 737.36h3.79v3.81h-3.79zM355.96 733.60h22.74v3.81h-22.74zM496.19 733.60h3.79v3.81h-3.79zM359.75 729.84h30.32v3.81h-30.32zM450.71 729.84h18.95v3.81h-18.95zM481.03 729.84h3.79v3.81h-3.79zM499.98 729.84h3.79v3.81h-3.79zM507.56 726.08h15.16v3.81h-15.16zM443.13 722.32h3.79v3.81h-3.79zM507.56 722.32h7.58v3.81h-7.58zM522.72 722.32h3.79v3.81h-3.79zM401.44 718.56h3.79v3.81h-3.79zM439.34 718.56h3.79v3.81h-3.79zM507.56 718.56h3.79v3.81h-3.79zM522.72 718.56h3.79v3.81h-3.79zM401.44 714.80h3.79v3.81h-3.79zM507.56 714.80h7.58v3.81h-7.58zM518.93 714.80h7.58v3.81h-7.58zM401.44 711.04h3.79v3.81h-3.79zM481.03 711.04h7.58v3.81h-7.58zM511.35 711.04h15.16v3.81h-15.16zM405.23 707.28h3.79v3.81h-3.79zM481.03 707.28h7.58v3.81h-7.58zM507.56 707.28h22.74v3.81h-22.74zM750.12 707.28h7.58v3.81h-7.58zM405.23 703.52h3.79v3.81h-3.79zM427.97 703.52h7.58v3.81h-7.58zM507.56 703.52h15.16v3.81h-15.16zM545.46 703.52h7.58v3.81h-7.58zM746.33 703.52h3.79v3.81h-3.79zM409.02 699.76h7.58v3.81h-7.58zM420.39 699.76h11.37v3.81h-11.37zM511.35 699.76h11.37v3.81h-11.37zM545.46 699.76h11.37v3.81h-11.37zM564.41 699.76h30.32v3.81h-30.32zM742.54 699.76h7.58v3.81h-7.58zM416.60 696.00h7.58v3.81h-7.58zM518.93 696.00h3.79v3.81h-3.79zM549.25 696.00h7.58v3.81h-7.58zM560.62 696.00h45.48v3.81h-45.48zM553.04 692.24h53.06v3.81h-53.06zM734.96 692.24h3.79v3.81h-3.79zM553.04 688.48h49.27v3.81h-49.27zM727.38 688.48h7.58v3.81h-7.58zM102.03 684.72h3.79v3.81h-3.79zM556.83 684.72h45.48v3.81h-45.48zM719.80 684.72h7.58v3.81h-7.58zM94.45 680.96h3.79v3.81h-3.79zM109.61 680.96h3.79v3.81h-3.79zM549.25 680.96h56.85v3.81h-56.85zM625.05 680.96h3.79v3.81h-3.79zM719.80 680.96h3.79v3.81h-3.79zM549.25 677.20h22.74v3.81h-22.74zM579.57 677.20h26.53v3.81h-26.53zM704.64 677.20h15.16v3.81h-15.16zM579.57 673.44h26.53v3.81h-26.53zM697.06 673.44h7.58v3.81h-7.58zM708.43 673.44h3.79v3.81h-3.79zM575.78 669.68h26.53v3.81h-26.53zM617.47 669.68h3.79v3.81h-3.79zM693.27 669.68h7.58v3.81h-7.58zM575.78 665.92h22.74v3.81h-22.74zM685.69 665.92h11.37v3.81h-11.37zM575.78 662.16h11.37v3.81h-11.37zM681.90 662.16h7.58v3.81h-7.58zM575.78 658.40h11.37v3.81h-11.37zM678.11 658.40h7.58v3.81h-7.58zM579.57 654.64h11.37v3.81h-11.37zM655.37 654.64h11.37v3.81h-11.37zM670.53 654.64h15.16v3.81h-15.16zM583.36 650.88h11.37v3.81h-11.37zM647.79 650.88h26.53v3.81h-26.53zM553.04 647.12h11.37v3.81h-11.37zM587.15 647.12h3.79v3.81h-3.79zM594.73 647.12h11.37v3.81h-11.37zM628.84 647.12h3.79v3.81h-3.79zM651.58 647.12h11.37v3.81h-11.37zM556.83 643.36h7.58v3.81h-7.58zM594.73 643.36h7.58v3.81h-7.58zM625.05 643.36h7.58v3.81h-7.58zM644.00 643.36h15.16v3.81h-15.16zM602.31 639.60h7.58v3.81h-7.58zM617.47 639.60h18.95v3.81h-18.95zM640.21 639.60h3.79v3.81h-3.79zM621.26 635.84h15.16v3.81h-15.16zM625.05 632.08h3.79v3.81h-3.79zM230.89 620.80h7.58v3.81h-7.58zM215.73 617.04h11.37v3.81h-11.37zM230.89 617.04h7.58v3.81h-7.58zM211.94 613.28h11.37v3.81h-11.37zM227.10 613.28h7.58v3.81h-7.58zM208.15 609.52h7.58v3.81h-7.58zM211.94 605.76h3.79v3.81h-3.79zM219.52 605.76h3.79v3.81h-3.79zM105.82 553.12h3.79v3.81h-3.79z"/>
<path fill="#5ca0cc" d="M136.14 880.24h3.79v3.81h-3.79zM257.42 880.24h7.58v3.81h-7.58zM268.79 880.24h15.16v3.81h-15.16zM299.11 880.24h15.16v3.81h-15.16zM136.14 876.48h3.79v3.81h-3.79zM257.42 876.48h30.32v3.81h-30.32zM295.32 876.48h18.95v3.81h-18.95zM136.14 872.72h3.79v3.81h-3.79zM257.42 872.72h53.06v3.81h-53.06zM674.32 872.72h15.16v3.81h-15.16zM136.14 868.96h3.79v3.81h-3.79zM253.63 868.96h56.85v3.81h-56.85zM674.32 868.96h15.16v3.81h-15.16zM136.14 865.20h3.79v3.81h-3.79zM249.84 865.20h34.11v3.81h-34.11zM291.53 865.20h3.79v3.81h-3.79zM299.11 865.20h11.37v3.81h-11.37zM344.59 865.20h7.58v3.81h-7.58zM681.90 865.20h7.58v3.81h-7.58zM136.14 861.44h3.79v3.81h-3.79zM230.89 861.44h53.06v3.81h-53.06zM302.90 861.44h11.37v3.81h-11.37zM340.80 861.44h15.16v3.81h-15.16zM136.14 857.68h3.79v3.81h-3.79zM223.31 857.68h3.79v3.81h-3.79zM253.63 857.68h30.32v3.81h-30.32zM299.11 857.68h18.95v3.81h-18.95zM333.22 857.68h22.74v3.81h-22.74zM136.14 853.92h3.79v3.81h-3.79zM219.52 853.92h3.79v3.81h-3.79zM257.42 853.92h26.53v3.81h-26.53zM299.11 853.92h22.74v3.81h-22.74zM333.22 853.92h26.53v3.81h-26.53zM136.14 850.16h3.79v3.81h-3.79zM215.73 850.16h3.79v3.81h-3.79zM261.21 850.16h26.53v3.81h-26.53zM299.11 850.16h22.74v3.81h-22.74zM329.43 850.16h30.32v3.81h-30.32zM613.68 850.16h3.79v3.81h-3.79zM132.35 846.40h3.79v3.81h-3.79zM204.36 846.40h7.58v3.81h-7.58zM268.79 846.40h94.75v3.81h-94.75zM128.56 842.64h3.79v3.81h-3.79zM272.58 842.64h34.11v3.81h-34.11zM318.06 842.64h7.58v3.81h-7.58zM344.59 842.64h15.16v3.81h-15.16zM568.20 842.64h3.79v3.81h-3.79zM132.35 838.88h3.79v3.81h-3.79zM348.38 838.88h11.37v3.81h-11.37zM606.10 838.88h7.58v3.81h-7.58zM132.35 835.12h3.79v3.81h-3.79zM189.20 835.12h3.79v3.81h-3.79zM352.17 835.12h7.58v3.81h-7.58zM549.25 835.12h3.79v3.81h-3.79zM556.83 835.12h3.79v3.81h-3.79zM564.41 835.12h3.79v3.81h-3.79zM90.66 831.36h18.95v3.81h-18.95zM132.35 831.36h3.79v3.81h-3.79zM355.96 831.36h3.79v3.81h-3.79zM560.62 831.36h11.37v3.81h-11.37zM83.08 827.60h30.32v3.81h-30.32zM355.96 827.60h3.79v3.81h-3.79zM564.41 827.60h7.58v3.81h-7.58zM75.50 823.84h45.48v3.81h-45.48zM128.56 823.84h3.79v3.81h-3.79zM185.41 823.84h3.79v3.81h-3.79zM86.87 820.08h3.79v3.81h-3.79zM98.24 820.08h30.32v3.81h-30.32zM352.17 820.08h3.79v3.81h-3.79zM75.50 816.32h3.79v3.81h-3.79zM86.87 816.32h37.90v3.81h-37.90zM329.43 816.32h7.58v3.81h-7.58zM352.17 816.32h3.79v3.81h-3.79zM75.50 812.56h11.37v3.81h-11.37zM98.24 812.56h18.95v3.81h-18.95zM120.98 812.56h3.79v3.81h-3.79zM318.06 812.56h3.79v3.81h-3.79zM333.22 812.56h7.58v3.81h-7.58zM348.38 812.56h7.58v3.81h-7.58zM359.75 812.56h3.79v3.81h-3.79zM367.33 812.56h7.58v3.81h-7.58zM120.98 808.80h3.79v3.81h-3.79zM306.69 808.80h7.58v3.81h-7.58zM337.01 808.80h3.79v3.81h-3.79zM348.38 808.80h3.79v3.81h-3.79zM363.54 808.80h15.16v3.81h-15.16zM162.67 805.04h3.79v3.81h-3.79zM283.95 805.04h3.79v3.81h-3.79zM302.90 805.04h3.79v3.81h-3.79zM337.01 805.04h18.95v3.81h-18.95zM367.33 805.04h11.37v3.81h-11.37zM117.19 801.28h3.79v3.81h-3.79zM227.10 801.28h18.95v3.81h-18.95zM283.95 801.28h3.79v3.81h-3.79zM299.11 801.28h7.58v3.81h-7.58zM329.43 801.28h34.11v3.81h-34.11zM367.33 801.28h7.58v3.81h-7.58zM155.09 797.52h3.79v3.81h-3.79zM215.73 797.52h30.32v3.81h-30.32zM299.11 797.52h7.58v3.81h-7.58zM321.85 797.52h3.79v3.81h-3.79zM337.01 797.52h26.53v3.81h-26.53zM526.51 797.52h3.79v3.81h-3.79zM662.95 797.52h7.58v3.81h-7.58zM151.30 793.76h3.79v3.81h-3.79zM219.52 793.76h7.58v3.81h-7.58zM238.47 793.76h7.58v3.81h-7.58zM302.90 793.76h7.58v3.81h-7.58zM329.43 793.76h15.16v3.81h-15.16zM348.38 793.76h7.58v3.81h-7.58zM522.72 793.76h15.16v3.81h-15.16zM662.95 793.76h3.79v3.81h-3.79zM113.40 790.00h3.79v3.81h-3.79zM139.93 790.00h7.58v3.81h-7.58zM208.15 790.00h3.79v3.81h-3.79zM219.52 790.00h3.79v3.81h-3.79zM333.22 790.00h18.95v3.81h-18.95zM522.72 790.00h15.16v3.81h-15.16zM662.95 790.00h3.79v3.81h-3.79zM113.40 786.24h7.58v3.81h-7.58zM200.57 786.24h7.58v3.81h-7.58zM215.73 786.24h3.79v3.81h-3.79zM337.01 786.24h15.16v3.81h-15.16zM189.20 782.48h7.58v3.81h-7.58zM208.15 782.48h7.58v3.81h-7.58zM344.59 782.48h7.58v3.81h-7.58zM492.40 782.48h3.79v3.81h-3.79zM693.27 782.48h3.79v3.81h-3.79zM181.62 778.72h3.79v3.81h-3.79zM204.36 778.72h3.79v3.81h-3.79zM344.59 778.72h7.58v3.81h-7.58zM484.82 778.72h15.16v3.81h-15.16zM685.69 778.72h15.16v3.81h-15.16zM177.83 774.96h3.79v3.81h-3.79zM340.80 774.96h11.37v3.81h-11.37zM689.48 774.96h11.37v3.81h-11.37zM174.04 771.20h3.79v3.81h-3.79zM340.80 771.20h15.16v3.81h-15.16zM697.06 771.20h3.79v3.81h-3.79zM170.25 767.44h3.79v3.81h-3.79zM340.80 767.44h15.16v3.81h-15.16zM166.46 763.68h11.37v3.81h-11.37zM340.80 763.68h18.95v3.81h-18.95zM363.54 759.92h3.79v3.81h-3.79zM367.33 756.16h7.58v3.81h-7.58zM367.33 752.40h7.58v3.81h-7.58zM371.12 748.64h7.58v3.81h-7.58zM348.38 744.88h3.79v3.81h-3.79zM374.91 744.88h7.58v3.81h-7.58zM348.38 741.12h11.37v3.81h-11.37zM378.70 741.12h7.58v3.81h-7.58zM488.61 741.12h11.37v3.81h-11.37zM378.70 737.36h7.58v3.81h-7.58zM378.70 733.60h11.37v3.81h-11.37zM450.71 733.60h7.58v3.81h-7.58zM499.98 733.60h3.79v3.81h-3.79zM390.07 729.84h7.58v3.81h-7.58zM446.92 729.84h3.79v3.81h-3.79zM469.66 729.84h11.37v3.81h-11.37zM503.77 729.84h22.74v3.81h-22.74zM401.44 726.08h3.79v3.81h-3.79zM439.34 726.08h7.58v3.81h-7.58zM522.72 726.08h3.79v3.81h-3.79zM401.44 722.32h7.58v3.81h-7.58zM435.55 722.32h7.58v3.81h-7.58zM590.94 722.32h3.79v3.81h-3.79zM405.23 718.56h3.79v3.81h-3.79zM431.76 718.56h7.58v3.81h-7.58zM526.51 718.56h3.79v3.81h-3.79zM587.15 718.56h11.37v3.81h-11.37zM405.23 714.80h3.79v3.81h-3.79zM431.76 714.80h11.37v3.81h-11.37zM587.15 714.80h11.37v3.81h-11.37zM753.91 714.80h3.79v3.81h-3.79zM405.23 711.04h7.58v3.81h-7.58zM431.76 711.04h7.58v3.81h-7.58zM526.51 711.04h3.79v3.81h-3.79zM587.15 711.04h11.37v3.81h-11.37zM750.12 711.04h7.58v3.81h-7.58zM409.02 707.28h3.79v3.81h-3.79zM427.97 707.28h7.58v3.81h-7.58zM530.30 707.28h3.79v3.81h-3.79zM587.15 707.28h7.58v3.81h-7.58zM746.33 707.28h3.79v3.81h-3.79zM409.02 703.52h18.95v3.81h-18.95zM537.88 703.52h7.58v3.81h-7.58zM553.04 703.52h45.48v3.81h-45.48zM734.96 703.52h11.37v3.81h-11.37zM416.60 699.76h3.79v3.81h-3.79zM556.83 699.76h7.58v3.81h-7.58zM594.73 699.76h11.37v3.81h-11.37zM734.96 699.76h7.58v3.81h-7.58zM556.83 696.00h3.79v3.81h-3.79zM606.10 696.00h3.79v3.81h-3.79zM734.96 696.00h7.58v3.81h-7.58zM606.10 692.24h3.79v3.81h-3.79zM723.59 692.24h11.37v3.81h-11.37zM602.31 688.48h7.58v3.81h-7.58zM613.68 688.48h3.79v3.81h-3.79zM712.22 688.48h15.16v3.81h-15.16zM105.82 684.72h3.79v3.81h-3.79zM602.31 684.72h30.32v3.81h-30.32zM704.64 684.72h15.16v3.81h-15.16zM105.82 680.96h3.79v3.81h-3.79zM606.10 680.96h18.95v3.81h-18.95zM628.84 680.96h7.58v3.81h-7.58zM700.85 680.96h18.95v3.81h-18.95zM606.10 677.20h30.32v3.81h-30.32zM697.06 677.20h7.58v3.81h-7.58zM606.10 673.44h26.53v3.81h-26.53zM685.69 673.44h11.37v3.81h-11.37zM602.31 669.68h15.16v3.81h-15.16zM621.26 669.68h11.37v3.81h-11.37zM681.90 669.68h11.37v3.81h-11.37zM598.52 665.92h30.32v3.81h-30.32zM670.53 665.92h15.16v3.81h-15.16zM587.15 662.16h37.90v3.81h-37.90zM670.53 662.16h11.37v3.81h-11.37zM587.15 658.40h30.32v3.81h-30.32zM636.42 658.40h3.79v3.81h-3.79zM655.37 658.40h22.74v3.81h-22.74zM590.94 654.64h30.32v3.81h-30.32zM625.05 654.64h30.32v3.81h-30.32zM666.74 654.64h3.79v3.81h-3.79zM594.73 650.88h53.06v3.81h-53.06zM590.94 647.12h3.79v3.81h-3.79zM606.10 647.12h22.74v3.81h-22.74zM632.63 647.12h18.95v3.81h-18.95zM587.15 643.36h7.58v3.81h-7.58zM602.31 643.36h22.74v3.81h-22.74zM632.63 643.36h11.37v3.81h-11.37zM594.73 639.60h7.58v3.81h-7.58zM609.89 639.60h7.58v3.81h-7.58zM636.42 639.60h3.79v3.81h-3.79zM227.10 617.04h3.79v3.81h-3.79zM223.31 613.28h3.79v3.81h-3.79zM215.73 609.52h11.37v3.81h-11.37zM215.73 605.76h3.79v3.81h-3.79zM109.61 553.12h3.79v3.81h-3.79z"/>
<path fill="#64c0dc" d="M249.84 880.24h7.58v3.81h-7.58zM314.27 880.24h34.11v3.81h-34.11zM352.17 880.24h11.37v3.81h-11.37zM609.89 880.24h34.11v3.81h-34.11zM659.16 880.24h45.48v3.81h-45.48zM249.84 876.48h7.58v3.81h-7.58zM314.27 876.48h15.16v3.81h-15.16zM333.22 876.48h15.16v3.81h-15.16zM355.96 876.48h3.79v3.81h-3.79zM609.89 876.48h37.90v3.81h-37.90zM659.16 876.48h45.48v3.81h-45.48zM139.93 872.72h3.79v3.81h-3.79zM249.84 872.72h7.58v3.81h-7.58zM310.48 872.72h7.58v3.81h-7.58zM340.80 872.72h18.95v3.81h-18.95zM606.10 872.72h41.69v3.81h-41.69zM659.16 872.72h15.16v3.81h-15.16zM689.48 872.72h15.16v3.81h-15.16zM246.05 868.96h7.58v3.81h-7.58zM310.48 868.96h3.79v3.81h-3.79zM340.80 868.96h15.16v3.81h-15.16zM602.31 868.96h7.58v3.81h-7.58zM613.68 868.96h3.79v3.81h-3.79zM621.26 868.96h7.58v3.81h-7.58zM632.63 868.96h15.16v3.81h-15.16zM659.16 868.96h3.79v3.81h-3.79zM670.53 868.96h3.79v3.81h-3.79zM689.48 868.96h15.16v3.81h-15.16zM139.93 865.20h3.79v3.81h-3.79zM230.89 865.20h7.58v3.81h-7.58zM246.05 865.20h3.79v3.81h-3.79zM283.95 865.20h7.58v3.81h-7.58zM295.32 865.20h3.79v3.81h-3.79zM310.48 865.20h7.58v3.81h-7.58zM337.01 865.20h7.58v3.81h-7.58zM352.17 865.20h7.58v3.81h-7.58zM598.52 865.20h49.27v3.81h-49.27zM670.53 865.20h11.37v3.81h-11.37zM689.48 865.20h11.37v3.81h-11.37zM139.93 861.44h3.79v3.81h-3.79zM219.52 861.44h11.37v3.81h-11.37zM283.95 861.44h18.95v3.81h-18.95zM314.27 861.44h7.58v3.81h-7.58zM333.22 861.44h7.58v3.81h-7.58zM355.96 861.44h3.79v3.81h-3.79zM590.94 861.44h56.85v3.81h-56.85zM659.16 861.44h37.90v3.81h-37.90zM750.12 861.44h3.79v3.81h-3.79zM139.93 857.68h3.79v3.81h-3.79zM219.52 857.68h3.79v3.81h-3.79zM283.95 857.68h3.79v3.81h-3.79zM295.32 857.68h3.79v3.81h-3.79zM318.06 857.68h7.58v3.81h-7.58zM329.43 857.68h3.79v3.81h-3.79zM355.96 857.68h3.79v3.81h-3.79zM564.41 857.68h7.58v3.81h-7.58zM587.15 857.68h53.06v3.81h-53.06zM662.95 857.68h34.11v3.81h-34.11zM215.73 853.92h3.79v3.81h-3.79zM283.95 853.92h15.16v3.81h-15.16zM321.85 853.92h11.37v3.81h-11.37zM359.75 853.92h7.58v3.81h-7.58zM564.41 853.92h7.58v3.81h-7.58zM587.15 853.92h45.48v3.81h-45.48zM666.74 853.92h18.95v3.81h-18.95zM208.15 850.16h7.58v3.81h-7.58zM287.74 850.16h11.37v3.81h-11.37zM321.85 850.16h7.58v3.81h-7.58zM359.75 850.16h15.16v3.81h-15.16zM560.62 850.16h15.16v3.81h-15.16zM587.15 850.16h26.53v3.81h-26.53zM617.47 850.16h7.58v3.81h-7.58zM674.32 850.16h7.58v3.81h-7.58zM753.91 850.16h3.79v3.81h-3.79zM200.57 846.40h3.79v3.81h-3.79zM363.54 846.40h15.16v3.81h-15.16zM556.83 846.40h22.74v3.81h-22.74zM587.15 846.40h37.90v3.81h-37.90zM132.35 842.64h3.79v3.81h-3.79zM196.78 842.64h3.79v3.81h-3.79zM359.75 842.64h15.16v3.81h-15.16zM549.25 842.64h18.95v3.81h-18.95zM571.99 842.64h11.37v3.81h-11.37zM587.15 842.64h37.90v3.81h-37.90zM192.99 838.88h3.79v3.81h-3.79zM359.75 838.88h11.37v3.81h-11.37zM549.25 838.88h56.85v3.81h-56.85zM613.68 838.88h7.58v3.81h-7.58zM359.75 835.12h11.37v3.81h-11.37zM545.46 835.12h3.79v3.81h-3.79zM553.04 835.12h3.79v3.81h-3.79zM560.62 835.12h3.79v3.81h-3.79zM568.20 835.12h49.27v3.81h-49.27zM712.22 835.12h15.16v3.81h-15.16zM359.75 831.36h7.58v3.81h-7.58zM537.88 831.36h22.74v3.81h-22.74zM571.99 831.36h22.74v3.81h-22.74zM598.52 831.36h11.37v3.81h-11.37zM708.43 831.36h22.74v3.81h-22.74zM132.35 827.60h3.79v3.81h-3.79zM359.75 827.60h7.58v3.81h-7.58zM522.72 827.60h41.69v3.81h-41.69zM571.99 827.60h22.74v3.81h-22.74zM598.52 827.60h11.37v3.81h-11.37zM704.64 827.60h26.53v3.81h-26.53zM132.35 823.84h3.79v3.81h-3.79zM355.96 823.84h15.16v3.81h-15.16zM515.14 823.84h26.53v3.81h-26.53zM545.46 823.84h64.43v3.81h-64.43zM697.06 823.84h30.32v3.81h-30.32zM75.50 820.08h11.37v3.81h-11.37zM128.56 820.08h3.79v3.81h-3.79zM355.96 820.08h18.95v3.81h-18.95zM507.56 820.08h18.95v3.81h-18.95zM534.09 820.08h3.79v3.81h-3.79zM545.46 820.08h49.27v3.81h-49.27zM689.48 820.08h34.11v3.81h-34.11zM79.29 816.32h7.58v3.81h-7.58zM124.77 816.32h3.79v3.81h-3.79zM177.83 816.32h3.79v3.81h-3.79zM355.96 816.32h22.74v3.81h-22.74zM503.77 816.32h18.95v3.81h-18.95zM541.67 816.32h49.27v3.81h-49.27zM681.90 816.32h26.53v3.81h-26.53zM124.77 812.56h3.79v3.81h-3.79zM170.25 812.56h3.79v3.81h-3.79zM321.85 812.56h11.37v3.81h-11.37zM355.96 812.56h3.79v3.81h-3.79zM363.54 812.56h3.79v3.81h-3.79zM374.91 812.56h7.58v3.81h-7.58zM503.77 812.56h15.16v3.81h-15.16zM537.88 812.56h49.27v3.81h-49.27zM678.11 812.56h30.32v3.81h-30.32zM124.77 808.80h3.79v3.81h-3.79zM314.27 808.80h7.58v3.81h-7.58zM333.22 808.80h3.79v3.81h-3.79zM352.17 808.80h11.37v3.81h-11.37zM378.70 808.80h11.37v3.81h-11.37zM484.82 808.80h37.90v3.81h-37.90zM537.88 808.80h26.53v3.81h-26.53zM568.20 808.80h15.16v3.81h-15.16zM674.32 808.80h15.16v3.81h-15.16zM120.98 805.04h3.79v3.81h-3.79zM306.69 805.04h11.37v3.81h-11.37zM333.22 805.04h3.79v3.81h-3.79zM355.96 805.04h11.37v3.81h-11.37zM378.70 805.04h15.16v3.81h-15.16zM477.24 805.04h56.85v3.81h-56.85zM537.88 805.04h49.27v3.81h-49.27zM662.95 805.04h22.74v3.81h-22.74zM306.69 801.28h7.58v3.81h-7.58zM325.64 801.28h3.79v3.81h-3.79zM363.54 801.28h3.79v3.81h-3.79zM374.91 801.28h18.95v3.81h-18.95zM473.45 801.28h37.90v3.81h-37.90zM515.14 801.28h72.01v3.81h-72.01zM659.16 801.28h37.90v3.81h-37.90zM753.91 801.28h3.79v3.81h-3.79zM117.19 797.52h3.79v3.81h-3.79zM306.69 797.52h15.16v3.81h-15.16zM363.54 797.52h34.11v3.81h-34.11zM469.66 797.52h37.90v3.81h-37.90zM511.35 797.52h15.16v3.81h-15.16zM530.30 797.52h53.06v3.81h-53.06zM655.37 797.52h7.58v3.81h-7.58zM670.53 797.52h22.74v3.81h-22.74zM742.54 797.52h15.16v3.81h-15.16zM117.19 793.76h3.79v3.81h-3.79zM211.94 793.76h7.58v3.81h-7.58zM344.59 793.76h3.79v3.81h-3.79zM355.96 793.76h26.53v3.81h-26.53zM465.87 793.76h56.85v3.81h-56.85zM537.88 793.76h11.37v3.81h-11.37zM568.20 793.76h15.16v3.81h-15.16zM647.79 793.76h15.16v3.81h-15.16zM666.74 793.76h26.53v3.81h-26.53zM742.54 793.76h15.16v3.81h-15.16zM117.19 790.00h18.95v3.81h-18.95zM211.94 790.00h7.58v3.81h-7.58zM352.17 790.00h18.95v3.81h-18.95zM465.87 790.00h18.95v3.81h-18.95zM488.61 790.00h34.11v3.81h-34.11zM537.88 790.00h11.37v3.81h-11.37zM568.20 790.00h3.79v3.81h-3.79zM644.00 790.00h18.95v3.81h-18.95zM666.74 790.00h26.53v3.81h-26.53zM742.54 790.00h15.16v3.81h-15.16zM208.15 786.24h7.58v3.81h-7.58zM352.17 786.24h18.95v3.81h-18.95zM465.87 786.24h37.90v3.81h-37.90zM511.35 786.24h7.58v3.81h-7.58zM522.72 786.24h26.53v3.81h-26.53zM640.21 786.24h60.64v3.81h-60.64zM738.75 786.24h18.95v3.81h-18.95zM196.78 782.48h11.37v3.81h-11.37zM352.17 782.48h11.37v3.81h-11.37zM367.33 782.48h3.79v3.81h-3.79zM465.87 782.48h26.53v3.81h-26.53zM496.19 782.48h7.58v3.81h-7.58zM640.21 782.48h53.06v3.81h-53.06zM697.06 782.48h7.58v3.81h-7.58zM738.75 782.48h18.95v3.81h-18.95zM185.41 778.72h3.79v3.81h-3.79zM200.57 778.72h3.79v3.81h-3.79zM352.17 778.72h7.58v3.81h-7.58zM465.87 778.72h18.95v3.81h-18.95zM499.98 778.72h3.79v3.81h-3.79zM636.42 778.72h49.27v3.81h-49.27zM700.85 778.72h3.79v3.81h-3.79zM738.75 778.72h18.95v3.81h-18.95zM181.62 774.96h3.79v3.81h-3.79zM200.57 774.96h3.79v3.81h-3.79zM352.17 774.96h3.79v3.81h-3.79zM469.66 774.96h30.32v3.81h-30.32zM636.42 774.96h53.06v3.81h-53.06zM700.85 774.96h7.58v3.81h-7.58zM742.54 774.96h15.16v3.81h-15.16zM177.83 771.20h3.79v3.81h-3.79zM196.78 771.20h3.79v3.81h-3.79zM355.96 771.20h11.37v3.81h-11.37zM473.45 771.20h3.79v3.81h-3.79zM481.03 771.20h18.95v3.81h-18.95zM636.42 771.20h60.64v3.81h-60.64zM700.85 771.20h3.79v3.81h-3.79zM723.59 771.20h7.58v3.81h-7.58zM746.33 771.20h11.37v3.81h-11.37zM174.04 767.44h7.58v3.81h-7.58zM189.20 767.44h3.79v3.81h-3.79zM355.96 767.44h11.37v3.81h-11.37zM632.63 767.44h72.01v3.81h-72.01zM723.59 767.44h7.58v3.81h-7.58zM746.33 767.44h11.37v3.81h-11.37zM359.75 763.68h7.58v3.81h-7.58zM636.42 763.68h68.22v3.81h-68.22zM723.59 763.68h11.37v3.81h-11.37zM742.54 763.68h15.16v3.81h-15.16zM367.33 759.92h11.37v3.81h-11.37zM636.42 759.92h72.01v3.81h-72.01zM723.59 759.92h11.37v3.81h-11.37zM738.75 759.92h18.95v3.81h-18.95zM374.91 756.16h3.79v3.81h-3.79zM496.19 756.16h7.58v3.81h-7.58zM640.21 756.16h3.79v3.81h-3.79zM647.79 756.16h45.48v3.81h-45.48zM738.75 756.16h18.95v3.81h-18.95zM374.91 752.40h3.79v3.81h-3.79zM496.19 752.40h7.58v3.81h-7.58zM659.16 752.40h15.16v3.81h-15.16zM678.11 752.40h7.58v3.81h-7.58zM742.54 752.40h15.16v3.81h-15.16zM378.70 748.64h3.79v3.81h-3.79zM382.49 744.88h3.79v3.81h-3.79zM488.61 744.88h3.79v3.81h-3.79zM496.19 744.88h3.79v3.81h-3.79zM625.05 744.88h7.58v3.81h-7.58zM674.32 744.88h3.79v3.81h-3.79zM386.28 741.12h3.79v3.81h-3.79zM484.82 741.12h3.79v3.81h-3.79zM499.98 741.12h3.79v3.81h-3.79zM625.05 741.12h15.16v3.81h-15.16zM386.28 737.36h7.58v3.81h-7.58zM454.50 737.36h3.79v3.81h-3.79zM481.03 737.36h3.79v3.81h-3.79zM499.98 737.36h3.79v3.81h-3.79zM625.05 737.36h15.16v3.81h-15.16zM390.07 733.60h3.79v3.81h-3.79zM446.92 733.60h3.79v3.81h-3.79zM458.29 733.60h11.37v3.81h-11.37zM481.03 733.60h3.79v3.81h-3.79zM503.77 733.60h22.74v3.81h-22.74zM632.63 733.60h7.58v3.81h-7.58zM397.65 729.84h7.58v3.81h-7.58zM443.13 729.84h3.79v3.81h-3.79zM526.51 729.84h7.58v3.81h-7.58zM647.79 729.84h3.79v3.81h-3.79zM405.23 726.08h7.58v3.81h-7.58zM435.55 726.08h3.79v3.81h-3.79zM526.51 726.08h3.79v3.81h-3.79zM587.15 726.08h11.37v3.81h-11.37zM409.02 722.32h7.58v3.81h-7.58zM431.76 722.32h3.79v3.81h-3.79zM526.51 722.32h3.79v3.81h-3.79zM587.15 722.32h3.79v3.81h-3.79zM594.73 722.32h7.58v3.81h-7.58zM409.02 718.56h7.58v3.81h-7.58zM427.97 718.56h3.79v3.81h-3.79zM598.52 718.56h3.79v3.81h-3.79zM750.12 718.56h7.58v3.81h-7.58zM409.02 714.80h7.58v3.81h-7.58zM427.97 714.80h3.79v3.81h-3.79zM526.51 714.80h3.79v3.81h-3.79zM598.52 714.80h3.79v3.81h-3.79zM746.33 714.80h7.58v3.81h-7.58zM412.81 711.04h7.58v3.81h-7.58zM424.18 711.04h7.58v3.81h-7.58zM560.62 711.04h15.16v3.81h-15.16zM598.52 711.04h3.79v3.81h-3.79zM628.84 711.04h7.58v3.81h-7.58zM734.96 711.04h15.16v3.81h-15.16zM412.81 707.28h15.16v3.81h-15.16zM534.09 707.28h3.79v3.81h-3.79zM549.25 707.28h37.90v3.81h-37.90zM594.73 707.28h7.58v3.81h-7.58zM606.10 707.28h30.32v3.81h-30.32zM734.96 707.28h11.37v3.81h-11.37zM598.52 703.52h34.11v3.81h-34.11zM731.17 703.52h3.79v3.81h-3.79zM606.10 699.76h26.53v3.81h-26.53zM731.17 699.76h3.79v3.81h-3.79zM609.89 696.00h22.74v3.81h-22.74zM644.00 696.00h3.79v3.81h-3.79zM719.80 696.00h15.16v3.81h-15.16zM609.89 692.24h22.74v3.81h-22.74zM644.00 692.24h7.58v3.81h-7.58zM712.22 692.24h11.37v3.81h-11.37zM609.89 688.48h3.79v3.81h-3.79zM617.47 688.48h15.16v3.81h-15.16zM644.00 688.48h3.79v3.81h-3.79zM704.64 688.48h7.58v3.81h-7.58zM632.63 684.72h11.37v3.81h-11.37zM700.85 684.72h3.79v3.81h-3.79zM636.42 680.96h7.58v3.81h-7.58zM697.06 680.96h3.79v3.81h-3.79zM636.42 677.20h3.79v3.81h-3.79zM689.48 677.20h7.58v3.81h-7.58zM632.63 673.44h7.58v3.81h-7.58zM666.74 673.44h3.79v3.81h-3.79zM681.90 673.44h3.79v3.81h-3.79zM632.63 669.68h7.58v3.81h-7.58zM666.74 669.68h15.16v3.81h-15.16zM628.84 665.92h11.37v3.81h-11.37zM666.74 665.92h3.79v3.81h-3.79zM625.05 662.16h15.16v3.81h-15.16zM655.37 662.16h15.16v3.81h-15.16zM617.47 658.40h18.95v3.81h-18.95zM640.21 658.40h15.16v3.81h-15.16zM621.26 654.64h3.79v3.81h-3.79z"/>
<path fill="#60d4c0" d="M139.93 880.24h18.95v3.81h-18.95zM246.05 880.24h3.79v3.81h-3.79zM348.38 880.24h3.79v3.81h-3.79zM363.54 880.24h15.16v3.81h-15.16zM606.10 880.24h3.79v3.81h-3.79zM644.00 880.24h15.16v3.81h-15.16zM704.64 880.24h7.58v3.81h-7.58zM727.38 880.24h3.79v3.81h-3.79zM750.12 880.24h7.58v3.81h-7.58zM139.93 876.48h15.16v3.81h-15.16zM246.05 876.48h3.79v3.81h-3.79zM329.43 876.48h3.79v3.81h-3.79zM348.38 876.48h7.58v3.81h-7.58zM359.75 876.48h15.16v3.81h-15.16zM606.10 876.48h3.79v3.81h-3.79zM647.79 876.48h11.37v3.81h-11.37zM704.64 876.48h26.53v3.81h-26.53zM750.12 876.48h7.58v3.81h-7.58zM143.72 872.72h7.58v3.81h-7.58zM230.89 872.72h3.79v3.81h-3.79zM246.05 872.72h3.79v3.81h-3.79zM318.06 872.72h22.74v3.81h-22.74zM359.75 872.72h3.79v3.81h-3.79zM371.12 872.72h3.79v3.81h-3.79zM602.31 872.72h3.79v3.81h-3.79zM647.79 872.72h11.37v3.81h-11.37zM704.64 872.72h26.53v3.81h-26.53zM738.75 872.72h18.95v3.81h-18.95zM139.93 868.96h11.37v3.81h-11.37zM223.31 868.96h3.79v3.81h-3.79zM230.89 868.96h7.58v3.81h-7.58zM314.27 868.96h26.53v3.81h-26.53zM355.96 868.96h3.79v3.81h-3.79zM598.52 868.96h3.79v3.81h-3.79zM609.89 868.96h3.79v3.81h-3.79zM617.47 868.96h3.79v3.81h-3.79zM628.84 868.96h3.79v3.81h-3.79zM647.79 868.96h11.37v3.81h-11.37zM662.95 868.96h7.58v3.81h-7.58zM704.64 868.96h53.06v3.81h-53.06zM143.72 865.20h3.79v3.81h-3.79zM219.52 865.20h11.37v3.81h-11.37zM238.47 865.20h7.58v3.81h-7.58zM318.06 865.20h18.95v3.81h-18.95zM579.57 865.20h3.79v3.81h-3.79zM590.94 865.20h7.58v3.81h-7.58zM647.79 865.20h22.74v3.81h-22.74zM700.85 865.20h56.85v3.81h-56.85zM215.73 861.44h3.79v3.81h-3.79zM321.85 861.44h11.37v3.81h-11.37zM359.75 861.44h3.79v3.81h-3.79zM564.41 861.44h26.53v3.81h-26.53zM647.79 861.44h11.37v3.81h-11.37zM697.06 861.44h53.06v3.81h-53.06zM753.91 861.44h3.79v3.81h-3.79zM215.73 857.68h3.79v3.81h-3.79zM287.74 857.68h7.58v3.81h-7.58zM325.64 857.68h3.79v3.81h-3.79zM359.75 857.68h11.37v3.81h-11.37zM560.62 857.68h3.79v3.81h-3.79zM571.99 857.68h3.79v3.81h-3.79zM579.57 857.68h7.58v3.81h-7.58zM640.21 857.68h7.58v3.81h-7.58zM651.58 857.68h11.37v3.81h-11.37zM697.06 857.68h41.69v3.81h-41.69zM746.33 857.68h11.37v3.81h-11.37zM139.93 853.92h3.79v3.81h-3.79zM211.94 853.92h3.79v3.81h-3.79zM367.33 853.92h7.58v3.81h-7.58zM560.62 853.92h3.79v3.81h-3.79zM571.99 853.92h3.79v3.81h-3.79zM579.57 853.92h7.58v3.81h-7.58zM632.63 853.92h7.58v3.81h-7.58zM651.58 853.92h15.16v3.81h-15.16zM685.69 853.92h49.27v3.81h-49.27zM746.33 853.92h11.37v3.81h-11.37zM200.57 850.16h7.58v3.81h-7.58zM374.91 850.16h3.79v3.81h-3.79zM553.04 850.16h7.58v3.81h-7.58zM575.78 850.16h11.37v3.81h-11.37zM625.05 850.16h15.16v3.81h-15.16zM651.58 850.16h22.74v3.81h-22.74zM681.90 850.16h37.90v3.81h-37.90zM727.38 850.16h3.79v3.81h-3.79zM738.75 850.16h15.16v3.81h-15.16zM136.14 846.40h3.79v3.81h-3.79zM196.78 846.40h3.79v3.81h-3.79zM378.70 846.40h3.79v3.81h-3.79zM553.04 846.40h3.79v3.81h-3.79zM579.57 846.40h7.58v3.81h-7.58zM625.05 846.40h15.16v3.81h-15.16zM651.58 846.40h11.37v3.81h-11.37zM666.74 846.40h49.27v3.81h-49.27zM731.17 846.40h26.53v3.81h-26.53zM192.99 842.64h3.79v3.81h-3.79zM374.91 842.64h7.58v3.81h-7.58zM545.46 842.64h3.79v3.81h-3.79zM583.36 842.64h3.79v3.81h-3.79zM625.05 842.64h30.32v3.81h-30.32zM670.53 842.64h45.48v3.81h-45.48zM731.17 842.64h26.53v3.81h-26.53zM189.20 838.88h3.79v3.81h-3.79zM371.12 838.88h11.37v3.81h-11.37zM545.46 838.88h3.79v3.81h-3.79zM621.26 838.88h11.37v3.81h-11.37zM640.21 838.88h11.37v3.81h-11.37zM666.74 838.88h15.16v3.81h-15.16zM689.48 838.88h68.22v3.81h-68.22zM371.12 835.12h11.37v3.81h-11.37zM537.88 835.12h7.58v3.81h-7.58zM617.47 835.12h11.37v3.81h-11.37zM644.00 835.12h3.79v3.81h-3.79zM666.74 835.12h15.16v3.81h-15.16zM693.27 835.12h3.79v3.81h-3.79zM708.43 835.12h3.79v3.81h-3.79zM727.38 835.12h30.32v3.81h-30.32zM136.14 831.36h3.79v3.81h-3.79zM185.41 831.36h3.79v3.81h-3.79zM367.33 831.36h15.16v3.81h-15.16zM522.72 831.36h15.16v3.81h-15.16zM594.73 831.36h3.79v3.81h-3.79zM609.89 831.36h18.95v3.81h-18.95zM666.74 831.36h15.16v3.81h-15.16zM704.64 831.36h3.79v3.81h-3.79zM731.17 831.36h22.74v3.81h-22.74zM136.14 827.60h3.79v3.81h-3.79zM185.41 827.60h3.79v3.81h-3.79zM367.33 827.60h11.37v3.81h-11.37zM515.14 827.60h7.58v3.81h-7.58zM594.73 827.60h3.79v3.81h-3.79zM609.89 827.60h18.95v3.81h-18.95zM666.74 827.60h37.90v3.81h-37.90zM731.17 827.60h11.37v3.81h-11.37zM136.14 823.84h3.79v3.81h-3.79zM371.12 823.84h7.58v3.81h-7.58zM507.56 823.84h7.58v3.81h-7.58zM541.67 823.84h3.79v3.81h-3.79zM609.89 823.84h15.16v3.81h-15.16zM662.95 823.84h34.11v3.81h-34.11zM727.38 823.84h15.16v3.81h-15.16zM132.35 820.08h11.37v3.81h-11.37zM181.62 820.08h3.79v3.81h-3.79zM374.91 820.08h7.58v3.81h-7.58zM503.77 820.08h3.79v3.81h-3.79zM526.51 820.08h7.58v3.81h-7.58zM537.88 820.08h7.58v3.81h-7.58zM594.73 820.08h26.53v3.81h-26.53zM659.16 820.08h30.32v3.81h-30.32zM723.59 820.08h18.95v3.81h-18.95zM128.56 816.32h3.79v3.81h-3.79zM136.14 816.32h7.58v3.81h-7.58zM378.70 816.32h11.37v3.81h-11.37zM405.23 816.32h3.79v3.81h-3.79zM496.19 816.32h7.58v3.81h-7.58zM522.72 816.32h18.95v3.81h-18.95zM590.94 816.32h7.58v3.81h-7.58zM659.16 816.32h22.74v3.81h-22.74zM708.43 816.32h37.90v3.81h-37.90zM128.56 812.56h15.16v3.81h-15.16zM166.46 812.56h3.79v3.81h-3.79zM382.49 812.56h7.58v3.81h-7.58zM401.44 812.56h18.95v3.81h-18.95zM484.82 812.56h18.95v3.81h-18.95zM518.93 812.56h18.95v3.81h-18.95zM587.15 812.56h7.58v3.81h-7.58zM670.53 812.56h7.58v3.81h-7.58zM708.43 812.56h18.95v3.81h-18.95zM731.17 812.56h15.16v3.81h-15.16zM753.91 812.56h3.79v3.81h-3.79zM128.56 808.80h11.37v3.81h-11.37zM162.67 808.80h3.79v3.81h-3.79zM321.85 808.80h11.37v3.81h-11.37zM390.07 808.80h34.11v3.81h-34.11zM477.24 808.80h7.58v3.81h-7.58zM522.72 808.80h15.16v3.81h-15.16zM564.41 808.80h3.79v3.81h-3.79zM583.36 808.80h11.37v3.81h-11.37zM647.79 808.80h11.37v3.81h-11.37zM662.95 808.80h11.37v3.81h-11.37zM689.48 808.80h34.11v3.81h-34.11zM734.96 808.80h22.74v3.81h-22.74zM124.77 805.04h11.37v3.81h-11.37zM158.88 805.04h3.79v3.81h-3.79zM325.64 805.04h7.58v3.81h-7.58zM393.86 805.04h15.16v3.81h-15.16zM412.81 805.04h11.37v3.81h-11.37zM473.45 805.04h3.79v3.81h-3.79zM534.09 805.04h3.79v3.81h-3.79zM587.15 805.04h7.58v3.81h-7.58zM647.79 805.04h15.16v3.81h-15.16zM685.69 805.04h18.95v3.81h-18.95zM712.22 805.04h7.58v3.81h-7.58zM734.96 805.04h22.74v3.81h-22.74zM120.98 801.28h3.79v3.81h-3.79zM314.27 801.28h11.37v3.81h-11.37zM393.86 801.28h7.58v3.81h-7.58zM416.60 801.28h3.79v3.81h-3.79zM469.66 801.28h3.79v3.81h-3.79zM511.35 801.28h3.79v3.81h-3.79zM587.15 801.28h7.58v3.81h-7.58zM647.79 801.28h11.37v3.81h-11.37zM697.06 801.28h3.79v3.81h-3.79zM712.22 801.28h7.58v3.81h-7.58zM731.17 801.28h22.74v3.81h-22.74zM397.65 797.52h3.79v3.81h-3.79zM465.87 797.52h3.79v3.81h-3.79zM507.56 797.52h3.79v3.81h-3.79zM583.36 797.52h11.37v3.81h-11.37zM647.79 797.52h7.58v3.81h-7.58zM693.27 797.52h3.79v3.81h-3.79zM712.22 797.52h7.58v3.81h-7.58zM731.17 797.52h11.37v3.81h-11.37zM120.98 793.76h3.79v3.81h-3.79zM382.49 793.76h22.74v3.81h-22.74zM549.25 793.76h7.58v3.81h-7.58zM564.41 793.76h3.79v3.81h-3.79zM583.36 793.76h7.58v3.81h-7.58zM644.00 793.76h3.79v3.81h-3.79zM693.27 793.76h3.79v3.81h-3.79zM712.22 793.76h30.32v3.81h-30.32zM136.14 790.00h3.79v3.81h-3.79zM371.12 790.00h11.37v3.81h-11.37zM393.86 790.00h11.37v3.81h-11.37zM462.08 790.00h3.79v3.81h-3.79zM484.82 790.00h3.79v3.81h-3.79zM549.25 790.00h3.79v3.81h-3.79zM564.41 790.00h3.79v3.81h-3.79zM571.99 790.00h11.37v3.81h-11.37zM587.15 790.00h3.79v3.81h-3.79zM617.47 790.00h26.53v3.81h-26.53zM693.27 790.00h49.27v3.81h-49.27zM371.12 786.24h7.58v3.81h-7.58zM462.08 786.24h3.79v3.81h-3.79zM503.77 786.24h7.58v3.81h-7.58zM518.93 786.24h3.79v3.81h-3.79zM549.25 786.24h3.79v3.81h-3.79zM568.20 786.24h3.79v3.81h-3.79zM617.47 786.24h22.74v3.81h-22.74zM700.85 786.24h26.53v3.81h-26.53zM734.96 786.24h3.79v3.81h-3.79zM363.54 782.48h3.79v3.81h-3.79zM371.12 782.48h7.58v3.81h-7.58zM462.08 782.48h3.79v3.81h-3.79zM511.35 782.48h11.37v3.81h-11.37zM530.30 782.48h22.74v3.81h-22.74zM613.68 782.48h26.53v3.81h-26.53zM704.64 782.48h18.95v3.81h-18.95zM734.96 782.48h3.79v3.81h-3.79zM189.20 778.72h11.37v3.81h-11.37zM359.75 778.72h18.95v3.81h-18.95zM462.08 778.72h3.79v3.81h-3.79zM503.77 778.72h3.79v3.81h-3.79zM511.35 778.72h11.37v3.81h-11.37zM537.88 778.72h3.79v3.81h-3.79zM602.31 778.72h3.79v3.81h-3.79zM609.89 778.72h26.53v3.81h-26.53zM704.64 778.72h22.74v3.81h-22.74zM734.96 778.72h3.79v3.81h-3.79zM196.78 774.96h3.79v3.81h-3.79zM355.96 774.96h26.53v3.81h-26.53zM462.08 774.96h7.58v3.81h-7.58zM499.98 774.96h22.74v3.81h-22.74zM537.88 774.96h3.79v3.81h-3.79zM549.25 774.96h7.58v3.81h-7.58zM583.36 774.96h7.58v3.81h-7.58zM598.52 774.96h37.90v3.81h-37.90zM708.43 774.96h34.11v3.81h-34.11zM181.62 771.20h3.79v3.81h-3.79zM192.99 771.20h3.79v3.81h-3.79zM367.33 771.20h18.95v3.81h-18.95zM465.87 771.20h7.58v3.81h-7.58zM477.24 771.20h3.79v3.81h-3.79zM499.98 771.20h11.37v3.81h-11.37zM549.25 771.20h7.58v3.81h-7.58zM579.57 771.20h11.37v3.81h-11.37zM598.52 771.20h37.90v3.81h-37.90zM704.64 771.20h18.95v3.81h-18.95zM731.17 771.20h15.16v3.81h-15.16zM181.62 767.44h7.58v3.81h-7.58zM367.33 767.44h22.74v3.81h-22.74zM469.66 767.44h41.69v3.81h-41.69zM549.25 767.44h3.79v3.81h-3.79zM579.57 767.44h53.06v3.81h-53.06zM704.64 767.44h18.95v3.81h-18.95zM731.17 767.44h15.16v3.81h-15.16zM367.33 763.68h30.32v3.81h-30.32zM469.66 763.68h7.58v3.81h-7.58zM484.82 763.68h30.32v3.81h-30.32zM549.25 763.68h3.79v3.81h-3.79zM575.78 763.68h49.27v3.81h-49.27zM628.84 763.68h7.58v3.81h-7.58zM704.64 763.68h18.95v3.81h-18.95zM734.96 763.68h7.58v3.81h-7.58zM378.70 759.92h18.95v3.81h-18.95zM488.61 759.92h30.32v3.81h-30.32zM568.20 759.92h68.22v3.81h-68.22zM708.43 759.92h15.16v3.81h-15.16zM734.96 759.92h3.79v3.81h-3.79zM378.70 756.16h18.95v3.81h-18.95zM484.82 756.16h11.37v3.81h-11.37zM503.77 756.16h15.16v3.81h-15.16zM556.83 756.16h83.38v3.81h-83.38zM644.00 756.16h3.79v3.81h-3.79zM693.27 756.16h45.48v3.81h-45.48zM378.70 752.40h22.74v3.81h-22.74zM481.03 752.40h15.16v3.81h-15.16zM503.77 752.40h15.16v3.81h-15.16zM553.04 752.40h22.74v3.81h-22.74zM587.15 752.40h72.01v3.81h-72.01zM674.32 752.40h3.79v3.81h-3.79zM685.69 752.40h26.53v3.81h-26.53zM716.01 752.40h7.58v3.81h-7.58zM734.96 752.40h7.58v3.81h-7.58zM382.49 748.64h22.74v3.81h-22.74zM473.45 748.64h3.79v3.81h-3.79zM481.03 748.64h41.69v3.81h-41.69zM541.67 748.64h7.58v3.81h-7.58zM560.62 748.64h15.16v3.81h-15.16zM587.15 748.64h121.28v3.81h-121.28zM742.54 748.64h15.16v3.81h-15.16zM386.28 744.88h18.95v3.81h-18.95zM469.66 744.88h18.95v3.81h-18.95zM492.40 744.88h3.79v3.81h-3.79zM499.98 744.88h26.53v3.81h-26.53zM537.88 744.88h11.37v3.81h-11.37zM587.15 744.88h37.90v3.81h-37.90zM632.63 744.88h41.69v3.81h-41.69zM678.11 744.88h26.53v3.81h-26.53zM390.07 741.12h15.16v3.81h-15.16zM454.50 741.12h30.32v3.81h-30.32zM503.77 741.12h26.53v3.81h-26.53zM534.09 741.12h18.95v3.81h-18.95zM556.83 741.12h3.79v3.81h-3.79zM602.31 741.12h22.74v3.81h-22.74zM640.21 741.12h53.06v3.81h-53.06zM393.86 737.36h11.37v3.81h-11.37zM446.92 737.36h7.58v3.81h-7.58zM458.29 737.36h22.74v3.81h-22.74zM503.77 737.36h53.06v3.81h-53.06zM598.52 737.36h26.53v3.81h-26.53zM640.21 737.36h30.32v3.81h-30.32zM681.90 737.36h7.58v3.81h-7.58zM393.86 733.60h11.37v3.81h-11.37zM416.60 733.60h3.79v3.81h-3.79zM443.13 733.60h3.79v3.81h-3.79zM469.66 733.60h11.37v3.81h-11.37zM526.51 733.60h26.53v3.81h-26.53zM594.73 733.60h37.90v3.81h-37.90zM640.21 733.60h22.74v3.81h-22.74zM405.23 729.84h18.95v3.81h-18.95zM431.76 729.84h11.37v3.81h-11.37zM534.09 729.84h15.16v3.81h-15.16zM587.15 729.84h60.64v3.81h-60.64zM651.58 729.84h7.58v3.81h-7.58zM412.81 726.08h22.74v3.81h-22.74zM530.30 726.08h18.95v3.81h-18.95zM598.52 726.08h56.85v3.81h-56.85zM416.60 722.32h15.16v3.81h-15.16zM530.30 722.32h18.95v3.81h-18.95zM583.36 722.32h3.79v3.81h-3.79zM602.31 722.32h45.48v3.81h-45.48zM746.33 722.32h11.37v3.81h-11.37zM416.60 718.56h11.37v3.81h-11.37zM530.30 718.56h15.16v3.81h-15.16zM568.20 718.56h11.37v3.81h-11.37zM583.36 718.56h3.79v3.81h-3.79zM602.31 718.56h45.48v3.81h-45.48zM734.96 718.56h15.16v3.81h-15.16zM416.60 714.80h11.37v3.81h-11.37zM530.30 714.80h11.37v3.81h-11.37zM556.83 714.80h30.32v3.81h-30.32zM602.31 714.80h45.48v3.81h-45.48zM727.38 714.80h18.95v3.81h-18.95zM420.39 711.04h3.79v3.81h-3.79zM530.30 711.04h11.37v3.81h-11.37zM553.04 711.04h7.58v3.81h-7.58zM575.78 711.04h11.37v3.81h-11.37zM602.31 711.04h26.53v3.81h-26.53zM636.42 711.04h11.37v3.81h-11.37zM727.38 711.04h7.58v3.81h-7.58zM537.88 707.28h11.37v3.81h-11.37zM602.31 707.28h3.79v3.81h-3.79zM636.42 707.28h18.95v3.81h-18.95zM727.38 707.28h7.58v3.81h-7.58zM632.63 703.52h26.53v3.81h-26.53zM727.38 703.52h3.79v3.81h-3.79zM632.63 699.76h34.11v3.81h-34.11zM716.01 699.76h15.16v3.81h-15.16zM632.63 696.00h11.37v3.81h-11.37zM647.79 696.00h22.74v3.81h-22.74zM712.22 696.00h7.58v3.81h-7.58zM632.63 692.24h11.37v3.81h-11.37zM651.58 692.24h11.37v3.81h-11.37zM704.64 692.24h7.58v3.81h-7.58zM632.63 688.48h11.37v3.81h-11.37zM647.79 688.48h18.95v3.81h-18.95zM700.85 688.48h3.79v3.81h-3.79zM644.00 684.72h26.53v3.81h-26.53zM644.00 680.96h7.58v3.81h-7.58zM655.37 680.96h18.95v3.81h-18.95zM693.27 680.96h3.79v3.81h-3.79zM640.21 677.20h7.58v3.81h-7.58zM655.37 677.20h18.95v3.81h-18.95zM678.11 677.20h11.37v3.81h-11.37zM640.21 673.44h3.79v3.81h-3.79zM651.58 673.44h15.16v3.81h-15.16zM670.53 673.44h11.37v3.81h-11.37zM640.21 669.68h3.79v3.81h-3.79zM651.58 669.68h15.16v3.81h-15.16zM640.21 665.92h3.79v3.81h-3.79zM651.58 665.92h15.16v3.81h-15.16zM640.21 662.16h3.79v3.81h-3.79zM651.58 662.16h3.79v3.81h-3.79z"/>
<path fill="#3cd470" d="M158.88 880.24h3.79v3.81h-3.79zM215.73 880.24h7.58v3.81h-7.58zM230.89 880.24h15.16v3.81h-15.16zM378.70 880.24h3.79v3.81h-3.79zM712.22 880.24h15.16v3.81h-15.16zM731.17 880.24h18.95v3.81h-18.95zM155.09 876.48h3.79v3.81h-3.79zM219.52 876.48h3.79v3.81h-3.79zM230.89 876.48h15.16v3.81h-15.16zM374.91 876.48h7.58v3.81h-7.58zM602.31 876.48h3.79v3.81h-3.79zM731.17 876.48h18.95v3.81h-18.95zM151.30 872.72h3.79v3.81h-3.79zM219.52 872.72h3.79v3.81h-3.79zM227.10 872.72h3.79v3.81h-3.79zM234.68 872.72h11.37v3.81h-11.37zM363.54 872.72h7.58v3.81h-7.58zM374.91 872.72h3.79v3.81h-3.79zM598.52 872.72h3.79v3.81h-3.79zM731.17 872.72h7.58v3.81h-7.58zM219.52 868.96h3.79v3.81h-3.79zM227.10 868.96h3.79v3.81h-3.79zM238.47 868.96h7.58v3.81h-7.58zM359.75 868.96h18.95v3.81h-18.95zM215.73 865.20h3.79v3.81h-3.79zM359.75 865.20h15.16v3.81h-15.16zM571.99 865.20h7.58v3.81h-7.58zM583.36 865.20h7.58v3.81h-7.58zM143.72 861.44h3.79v3.81h-3.79zM174.04 861.44h7.58v3.81h-7.58zM363.54 861.44h18.95v3.81h-18.95zM170.25 857.68h11.37v3.81h-11.37zM211.94 857.68h3.79v3.81h-3.79zM371.12 857.68h18.95v3.81h-18.95zM575.78 857.68h3.79v3.81h-3.79zM647.79 857.68h3.79v3.81h-3.79zM738.75 857.68h7.58v3.81h-7.58zM174.04 853.92h7.58v3.81h-7.58zM200.57 853.92h11.37v3.81h-11.37zM374.91 853.92h11.37v3.81h-11.37zM553.04 853.92h7.58v3.81h-7.58zM575.78 853.92h3.79v3.81h-3.79zM640.21 853.92h11.37v3.81h-11.37zM734.96 853.92h11.37v3.81h-11.37zM196.78 850.16h3.79v3.81h-3.79zM378.70 850.16h11.37v3.81h-11.37zM549.25 850.16h3.79v3.81h-3.79zM640.21 850.16h11.37v3.81h-11.37zM719.80 850.16h7.58v3.81h-7.58zM731.17 850.16h7.58v3.81h-7.58zM158.88 846.40h7.58v3.81h-7.58zM192.99 846.40h3.79v3.81h-3.79zM382.49 846.40h7.58v3.81h-7.58zM549.25 846.40h3.79v3.81h-3.79zM640.21 846.40h11.37v3.81h-11.37zM662.95 846.40h3.79v3.81h-3.79zM716.01 846.40h15.16v3.81h-15.16zM136.14 842.64h3.79v3.81h-3.79zM155.09 842.64h11.37v3.81h-11.37zM189.20 842.64h3.79v3.81h-3.79zM382.49 842.64h7.58v3.81h-7.58zM655.37 842.64h15.16v3.81h-15.16zM716.01 842.64h15.16v3.81h-15.16zM155.09 838.88h11.37v3.81h-11.37zM382.49 838.88h11.37v3.81h-11.37zM541.67 838.88h3.79v3.81h-3.79zM632.63 838.88h7.58v3.81h-7.58zM651.58 838.88h15.16v3.81h-15.16zM681.90 838.88h7.58v3.81h-7.58zM136.14 835.12h3.79v3.81h-3.79zM155.09 835.12h7.58v3.81h-7.58zM185.41 835.12h3.79v3.81h-3.79zM382.49 835.12h15.16v3.81h-15.16zM526.51 835.12h11.37v3.81h-11.37zM628.84 835.12h15.16v3.81h-15.16zM647.79 835.12h18.95v3.81h-18.95zM681.90 835.12h11.37v3.81h-11.37zM697.06 835.12h11.37v3.81h-11.37zM382.49 831.36h18.95v3.81h-18.95zM511.35 831.36h11.37v3.81h-11.37zM628.84 831.36h22.74v3.81h-22.74zM655.37 831.36h11.37v3.81h-11.37zM681.90 831.36h22.74v3.81h-22.74zM753.91 831.36h3.79v3.81h-3.79zM139.93 827.60h3.79v3.81h-3.79zM378.70 827.60h22.74v3.81h-22.74zM507.56 827.60h7.58v3.81h-7.58zM628.84 827.60h26.53v3.81h-26.53zM659.16 827.60h7.58v3.81h-7.58zM742.54 827.60h15.16v3.81h-15.16zM139.93 823.84h3.79v3.81h-3.79zM181.62 823.84h3.79v3.81h-3.79zM378.70 823.84h22.74v3.81h-22.74zM503.77 823.84h3.79v3.81h-3.79zM625.05 823.84h37.90v3.81h-37.90zM742.54 823.84h15.16v3.81h-15.16zM143.72 820.08h3.79v3.81h-3.79zM177.83 820.08h3.79v3.81h-3.79zM382.49 820.08h26.53v3.81h-26.53zM499.98 820.08h3.79v3.81h-3.79zM621.26 820.08h37.90v3.81h-37.90zM742.54 820.08h15.16v3.81h-15.16zM132.35 816.32h3.79v3.81h-3.79zM143.72 816.32h3.79v3.81h-3.79zM174.04 816.32h3.79v3.81h-3.79zM390.07 816.32h15.16v3.81h-15.16zM409.02 816.32h7.58v3.81h-7.58zM492.40 816.32h3.79v3.81h-3.79zM598.52 816.32h60.64v3.81h-60.64zM746.33 816.32h11.37v3.81h-11.37zM143.72 812.56h3.79v3.81h-3.79zM390.07 812.56h11.37v3.81h-11.37zM420.39 812.56h3.79v3.81h-3.79zM594.73 812.56h75.80v3.81h-75.80zM727.38 812.56h3.79v3.81h-3.79zM746.33 812.56h7.58v3.81h-7.58zM139.93 808.80h7.58v3.81h-7.58zM158.88 808.80h3.79v3.81h-3.79zM424.18 808.80h3.79v3.81h-3.79zM594.73 808.80h18.95v3.81h-18.95zM621.26 808.80h26.53v3.81h-26.53zM659.16 808.80h3.79v3.81h-3.79zM723.59 808.80h11.37v3.81h-11.37zM136.14 805.04h3.79v3.81h-3.79zM318.06 805.04h7.58v3.81h-7.58zM409.02 805.04h3.79v3.81h-3.79zM424.18 805.04h3.79v3.81h-3.79zM469.66 805.04h3.79v3.81h-3.79zM594.73 805.04h18.95v3.81h-18.95zM621.26 805.04h15.16v3.81h-15.16zM644.00 805.04h3.79v3.81h-3.79zM704.64 805.04h7.58v3.81h-7.58zM719.80 805.04h15.16v3.81h-15.16zM124.77 801.28h3.79v3.81h-3.79zM155.09 801.28h3.79v3.81h-3.79zM401.44 801.28h15.16v3.81h-15.16zM420.39 801.28h7.58v3.81h-7.58zM465.87 801.28h3.79v3.81h-3.79zM594.73 801.28h15.16v3.81h-15.16zM621.26 801.28h11.37v3.81h-11.37zM644.00 801.28h3.79v3.81h-3.79zM700.85 801.28h11.37v3.81h-11.37zM719.80 801.28h11.37v3.81h-11.37zM120.98 797.52h7.58v3.81h-7.58zM401.44 797.52h18.95v3.81h-18.95zM462.08 797.52h3.79v3.81h-3.79zM594.73 797.52h15.16v3.81h-15.16zM621.26 797.52h11.37v3.81h-11.37zM644.00 797.52h3.79v3.81h-3.79zM697.06 797.52h15.16v3.81h-15.16zM719.80 797.52h11.37v3.81h-11.37zM124.77 793.76h11.37v3.81h-11.37zM147.51 793.76h3.79v3.81h-3.79zM405.23 793.76h7.58v3.81h-7.58zM462.08 793.76h3.79v3.81h-3.79zM556.83 793.76h7.58v3.81h-7.58zM590.94 793.76h15.16v3.81h-15.16zM617.47 793.76h26.53v3.81h-26.53zM697.06 793.76h15.16v3.81h-15.16zM382.49 790.00h11.37v3.81h-11.37zM405.23 790.00h3.79v3.81h-3.79zM446.92 790.00h3.79v3.81h-3.79zM458.29 790.00h3.79v3.81h-3.79zM553.04 790.00h11.37v3.81h-11.37zM583.36 790.00h3.79v3.81h-3.79zM590.94 790.00h15.16v3.81h-15.16zM613.68 790.00h3.79v3.81h-3.79zM378.70 786.24h7.58v3.81h-7.58zM393.86 786.24h18.95v3.81h-18.95zM446.92 786.24h7.58v3.81h-7.58zM458.29 786.24h3.79v3.81h-3.79zM553.04 786.24h15.16v3.81h-15.16zM571.99 786.24h45.48v3.81h-45.48zM727.38 786.24h7.58v3.81h-7.58zM378.70 782.48h7.58v3.81h-7.58zM397.65 782.48h15.16v3.81h-15.16zM446.92 782.48h15.16v3.81h-15.16zM503.77 782.48h7.58v3.81h-7.58zM522.72 782.48h7.58v3.81h-7.58zM553.04 782.48h18.95v3.81h-18.95zM575.78 782.48h3.79v3.81h-3.79zM583.36 782.48h30.32v3.81h-30.32zM723.59 782.48h11.37v3.81h-11.37zM378.70 778.72h11.37v3.81h-11.37zM397.65 778.72h15.16v3.81h-15.16zM458.29 778.72h3.79v3.81h-3.79zM507.56 778.72h3.79v3.81h-3.79zM522.72 778.72h15.16v3.81h-15.16zM541.67 778.72h26.53v3.81h-26.53zM579.57 778.72h22.74v3.81h-22.74zM606.10 778.72h3.79v3.81h-3.79zM727.38 778.72h7.58v3.81h-7.58zM185.41 774.96h11.37v3.81h-11.37zM382.49 774.96h11.37v3.81h-11.37zM401.44 774.96h11.37v3.81h-11.37zM458.29 774.96h3.79v3.81h-3.79zM522.72 774.96h15.16v3.81h-15.16zM541.67 774.96h7.58v3.81h-7.58zM556.83 774.96h7.58v3.81h-7.58zM579.57 774.96h3.79v3.81h-3.79zM590.94 774.96h7.58v3.81h-7.58zM185.41 771.20h7.58v3.81h-7.58zM386.28 771.20h26.53v3.81h-26.53zM458.29 771.20h7.58v3.81h-7.58zM511.35 771.20h37.90v3.81h-37.90zM556.83 771.20h3.79v3.81h-3.79zM590.94 771.20h7.58v3.81h-7.58zM390.07 767.44h18.95v3.81h-18.95zM454.50 767.44h15.16v3.81h-15.16zM511.35 767.44h37.90v3.81h-37.90zM553.04 767.44h3.79v3.81h-3.79zM571.99 767.44h7.58v3.81h-7.58zM397.65 763.68h11.37v3.81h-11.37zM454.50 763.68h15.16v3.81h-15.16zM477.24 763.68h7.58v3.81h-7.58zM515.14 763.68h11.37v3.81h-11.37zM534.09 763.68h15.16v3.81h-15.16zM553.04 763.68h3.79v3.81h-3.79zM568.20 763.68h7.58v3.81h-7.58zM625.05 763.68h3.79v3.81h-3.79zM397.65 759.92h7.58v3.81h-7.58zM454.50 759.92h34.11v3.81h-34.11zM518.93 759.92h7.58v3.81h-7.58zM534.09 759.92h22.74v3.81h-22.74zM564.41 759.92h3.79v3.81h-3.79zM397.65 756.16h11.37v3.81h-11.37zM458.29 756.16h26.53v3.81h-26.53zM518.93 756.16h7.58v3.81h-7.58zM530.30 756.16h26.53v3.81h-26.53zM401.44 752.40h7.58v3.81h-7.58zM458.29 752.40h22.74v3.81h-22.74zM518.93 752.40h34.11v3.81h-34.11zM575.78 752.40h11.37v3.81h-11.37zM712.22 752.40h3.79v3.81h-3.79zM723.59 752.40h11.37v3.81h-11.37zM405.23 748.64h3.79v3.81h-3.79zM458.29 748.64h15.16v3.81h-15.16zM477.24 748.64h3.79v3.81h-3.79zM522.72 748.64h18.95v3.81h-18.95zM549.25 748.64h11.37v3.81h-11.37zM575.78 748.64h11.37v3.81h-11.37zM708.43 748.64h34.11v3.81h-34.11zM405.23 744.88h3.79v3.81h-3.79zM454.50 744.88h15.16v3.81h-15.16zM526.51 744.88h11.37v3.81h-11.37zM549.25 744.88h37.90v3.81h-37.90zM704.64 744.88h53.06v3.81h-53.06zM405.23 741.12h3.79v3.81h-3.79zM443.13 741.12h11.37v3.81h-11.37zM530.30 741.12h3.79v3.81h-3.79zM553.04 741.12h3.79v3.81h-3.79zM560.62 741.12h41.69v3.81h-41.69zM693.27 741.12h45.48v3.81h-45.48zM746.33 741.12h3.79v3.81h-3.79zM753.91 741.12h3.79v3.81h-3.79zM405.23 737.36h7.58v3.81h-7.58zM439.34 737.36h7.58v3.81h-7.58zM556.83 737.36h41.69v3.81h-41.69zM670.53 737.36h11.37v3.81h-11.37zM689.48 737.36h7.58v3.81h-7.58zM704.64 737.36h7.58v3.81h-7.58zM716.01 737.36h18.95v3.81h-18.95zM405.23 733.60h11.37v3.81h-11.37zM420.39 733.60h22.74v3.81h-22.74zM553.04 733.60h41.69v3.81h-41.69zM662.95 733.60h34.11v3.81h-34.11zM700.85 733.60h7.58v3.81h-7.58zM716.01 733.60h18.95v3.81h-18.95zM424.18 729.84h7.58v3.81h-7.58zM549.25 729.84h7.58v3.81h-7.58zM579.57 729.84h7.58v3.81h-7.58zM659.16 729.84h15.16v3.81h-15.16zM678.11 729.84h18.95v3.81h-18.95zM719.80 729.84h22.74v3.81h-22.74zM746.33 729.84h11.37v3.81h-11.37zM549.25 726.08h7.58v3.81h-7.58zM575.78 726.08h11.37v3.81h-11.37zM655.37 726.08h30.32v3.81h-30.32zM742.54 726.08h15.16v3.81h-15.16zM549.25 722.32h11.37v3.81h-11.37zM564.41 722.32h18.95v3.81h-18.95zM647.79 722.32h37.90v3.81h-37.90zM731.17 722.32h3.79v3.81h-3.79zM742.54 722.32h3.79v3.81h-3.79zM545.46 718.56h22.74v3.81h-22.74zM579.57 718.56h3.79v3.81h-3.79zM647.79 718.56h34.11v3.81h-34.11zM723.59 718.56h11.37v3.81h-11.37zM541.67 714.80h15.16v3.81h-15.16zM647.79 714.80h11.37v3.81h-11.37zM666.74 714.80h15.16v3.81h-15.16zM723.59 714.80h3.79v3.81h-3.79zM541.67 711.04h11.37v3.81h-11.37zM647.79 711.04h15.16v3.81h-15.16zM670.53 711.04h11.37v3.81h-11.37zM712.22 711.04h3.79v3.81h-3.79zM719.80 711.04h7.58v3.81h-7.58zM655.37 707.28h7.58v3.81h-7.58zM670.53 707.28h11.37v3.81h-11.37zM708.43 707.28h18.95v3.81h-18.95zM659.16 703.52h22.74v3.81h-22.74zM685.69 703.52h41.69v3.81h-41.69zM666.74 699.76h15.16v3.81h-15.16zM685.69 699.76h30.32v3.81h-30.32zM670.53 696.00h7.58v3.81h-7.58zM681.90 696.00h30.32v3.81h-30.32zM662.95 692.24h18.95v3.81h-18.95zM685.69 692.24h3.79v3.81h-3.79zM693.27 692.24h11.37v3.81h-11.37zM666.74 688.48h11.37v3.81h-11.37zM697.06 688.48h3.79v3.81h-3.79zM670.53 684.72h18.95v3.81h-18.95zM697.06 684.72h3.79v3.81h-3.79zM651.58 680.96h3.79v3.81h-3.79zM674.32 680.96h18.95v3.81h-18.95zM647.79 677.20h7.58v3.81h-7.58zM674.32 677.20h3.79v3.81h-3.79zM644.00 673.44h7.58v3.81h-7.58zM644.00 669.68h7.58v3.81h-7.58zM644.00 665.92h7.58v3.81h-7.58zM644.00 662.16h7.58v3.81h-7.58zM105.82 549.36h3.79v3.81h-3.79z"/>
<path fill="#10c81c" d="M162.67 880.24h3.79v3.81h-3.79zM211.94 880.24h3.79v3.81h-3.79zM223.31 880.24h7.58v3.81h-7.58zM382.49 880.24h7.58v3.81h-7.58zM393.86 880.24h3.79v3.81h-3.79zM158.88 876.48h3.79v3.81h-3.79zM215.73 876.48h3.79v3.81h-3.79zM223.31 876.48h7.58v3.81h-7.58zM382.49 876.48h15.16v3.81h-15.16zM155.09 872.72h3.79v3.81h-3.79zM223.31 872.72h3.79v3.81h-3.79zM378.70 872.72h18.95v3.81h-18.95zM151.30 868.96h3.79v3.81h-3.79zM378.70 868.96h18.95v3.81h-18.95zM579.57 868.96h7.58v3.81h-7.58zM594.73 868.96h3.79v3.81h-3.79zM147.51 865.20h3.79v3.81h-3.79zM174.04 865.20h7.58v3.81h-7.58zM374.91 865.20h22.74v3.81h-22.74zM568.20 865.20h3.79v3.81h-3.79zM170.25 861.44h3.79v3.81h-3.79zM181.62 861.44h3.79v3.81h-3.79zM211.94 861.44h3.79v3.81h-3.79zM382.49 861.44h11.37v3.81h-11.37zM560.62 861.44h3.79v3.81h-3.79zM143.72 857.68h3.79v3.81h-3.79zM181.62 857.68h3.79v3.81h-3.79zM196.78 857.68h3.79v3.81h-3.79zM204.36 857.68h7.58v3.81h-7.58zM390.07 857.68h3.79v3.81h-3.79zM553.04 857.68h7.58v3.81h-7.58zM170.25 853.92h3.79v3.81h-3.79zM181.62 853.92h3.79v3.81h-3.79zM192.99 853.92h7.58v3.81h-7.58zM386.28 853.92h11.37v3.81h-11.37zM549.25 853.92h3.79v3.81h-3.79zM139.93 850.16h3.79v3.81h-3.79zM158.88 850.16h3.79v3.81h-3.79zM174.04 850.16h11.37v3.81h-11.37zM189.20 850.16h7.58v3.81h-7.58zM390.07 850.16h11.37v3.81h-11.37zM545.46 850.16h3.79v3.81h-3.79zM155.09 846.40h3.79v3.81h-3.79zM166.46 846.40h3.79v3.81h-3.79zM185.41 846.40h7.58v3.81h-7.58zM390.07 846.40h11.37v3.81h-11.37zM545.46 846.40h3.79v3.81h-3.79zM166.46 842.64h3.79v3.81h-3.79zM185.41 842.64h3.79v3.81h-3.79zM390.07 842.64h15.16v3.81h-15.16zM541.67 842.64h3.79v3.81h-3.79zM136.14 838.88h3.79v3.81h-3.79zM181.62 838.88h7.58v3.81h-7.58zM393.86 838.88h11.37v3.81h-11.37zM515.14 838.88h11.37v3.81h-11.37zM534.09 838.88h7.58v3.81h-7.58zM151.30 835.12h3.79v3.81h-3.79zM162.67 835.12h3.79v3.81h-3.79zM177.83 835.12h7.58v3.81h-7.58zM397.65 835.12h11.37v3.81h-11.37zM507.56 835.12h18.95v3.81h-18.95zM139.93 831.36h3.79v3.81h-3.79zM151.30 831.36h7.58v3.81h-7.58zM177.83 831.36h7.58v3.81h-7.58zM401.44 831.36h7.58v3.81h-7.58zM503.77 831.36h7.58v3.81h-7.58zM651.58 831.36h3.79v3.81h-3.79zM143.72 827.60h3.79v3.81h-3.79zM181.62 827.60h3.79v3.81h-3.79zM401.44 827.60h11.37v3.81h-11.37zM499.98 827.60h7.58v3.81h-7.58zM655.37 827.60h3.79v3.81h-3.79zM143.72 823.84h3.79v3.81h-3.79zM177.83 823.84h3.79v3.81h-3.79zM401.44 823.84h15.16v3.81h-15.16zM499.98 823.84h3.79v3.81h-3.79zM147.51 820.08h3.79v3.81h-3.79zM174.04 820.08h3.79v3.81h-3.79zM409.02 820.08h7.58v3.81h-7.58zM492.40 820.08h7.58v3.81h-7.58zM147.51 816.32h3.79v3.81h-3.79zM170.25 816.32h3.79v3.81h-3.79zM416.60 816.32h7.58v3.81h-7.58zM488.61 816.32h3.79v3.81h-3.79zM147.51 812.56h3.79v3.81h-3.79zM162.67 812.56h3.79v3.81h-3.79zM424.18 812.56h3.79v3.81h-3.79zM481.03 812.56h3.79v3.81h-3.79zM147.51 808.80h3.79v3.81h-3.79zM427.97 808.80h3.79v3.81h-3.79zM473.45 808.80h3.79v3.81h-3.79zM613.68 808.80h7.58v3.81h-7.58zM155.09 805.04h3.79v3.81h-3.79zM427.97 805.04h3.79v3.81h-3.79zM613.68 805.04h7.58v3.81h-7.58zM636.42 805.04h7.58v3.81h-7.58zM128.56 801.28h7.58v3.81h-7.58zM427.97 801.28h3.79v3.81h-3.79zM462.08 801.28h3.79v3.81h-3.79zM609.89 801.28h11.37v3.81h-11.37zM632.63 801.28h11.37v3.81h-11.37zM128.56 797.52h7.58v3.81h-7.58zM151.30 797.52h3.79v3.81h-3.79zM420.39 797.52h22.74v3.81h-22.74zM458.29 797.52h3.79v3.81h-3.79zM609.89 797.52h11.37v3.81h-11.37zM632.63 797.52h11.37v3.81h-11.37zM136.14 793.76h7.58v3.81h-7.58zM412.81 793.76h37.90v3.81h-37.90zM458.29 793.76h3.79v3.81h-3.79zM606.10 793.76h11.37v3.81h-11.37zM409.02 790.00h37.90v3.81h-37.90zM450.71 790.00h7.58v3.81h-7.58zM606.10 790.00h7.58v3.81h-7.58zM386.28 786.24h7.58v3.81h-7.58zM412.81 786.24h34.11v3.81h-34.11zM454.50 786.24h3.79v3.81h-3.79zM386.28 782.48h11.37v3.81h-11.37zM412.81 782.48h15.16v3.81h-15.16zM443.13 782.48h3.79v3.81h-3.79zM571.99 782.48h3.79v3.81h-3.79zM579.57 782.48h3.79v3.81h-3.79zM390.07 778.72h7.58v3.81h-7.58zM412.81 778.72h15.16v3.81h-15.16zM443.13 778.72h15.16v3.81h-15.16zM568.20 778.72h11.37v3.81h-11.37zM393.86 774.96h7.58v3.81h-7.58zM412.81 774.96h15.16v3.81h-15.16zM443.13 774.96h15.16v3.81h-15.16zM564.41 774.96h7.58v3.81h-7.58zM575.78 774.96h3.79v3.81h-3.79zM412.81 771.20h18.95v3.81h-18.95zM450.71 771.20h7.58v3.81h-7.58zM560.62 771.20h18.95v3.81h-18.95zM409.02 767.44h26.53v3.81h-26.53zM446.92 767.44h7.58v3.81h-7.58zM556.83 767.44h15.16v3.81h-15.16zM409.02 763.68h7.58v3.81h-7.58zM420.39 763.68h34.11v3.81h-34.11zM526.51 763.68h7.58v3.81h-7.58zM556.83 763.68h11.37v3.81h-11.37zM405.23 759.92h7.58v3.81h-7.58zM420.39 759.92h34.11v3.81h-34.11zM526.51 759.92h7.58v3.81h-7.58zM556.83 759.92h7.58v3.81h-7.58zM409.02 756.16h3.79v3.81h-3.79zM420.39 756.16h37.90v3.81h-37.90zM526.51 756.16h3.79v3.81h-3.79zM409.02 752.40h49.27v3.81h-49.27zM409.02 748.64h49.27v3.81h-49.27zM409.02 744.88h45.48v3.81h-45.48zM409.02 741.12h34.11v3.81h-34.11zM738.75 741.12h7.58v3.81h-7.58zM750.12 741.12h3.79v3.81h-3.79zM412.81 737.36h26.53v3.81h-26.53zM697.06 737.36h7.58v3.81h-7.58zM712.22 737.36h3.79v3.81h-3.79zM734.96 737.36h22.74v3.81h-22.74zM697.06 733.60h3.79v3.81h-3.79zM708.43 733.60h7.58v3.81h-7.58zM734.96 733.60h22.74v3.81h-22.74zM556.83 729.84h22.74v3.81h-22.74zM674.32 729.84h3.79v3.81h-3.79zM697.06 729.84h22.74v3.81h-22.74zM742.54 729.84h3.79v3.81h-3.79zM556.83 726.08h18.95v3.81h-18.95zM685.69 726.08h56.85v3.81h-56.85zM560.62 722.32h3.79v3.81h-3.79zM685.69 722.32h45.48v3.81h-45.48zM734.96 722.32h7.58v3.81h-7.58zM681.90 718.56h7.58v3.81h-7.58zM697.06 718.56h26.53v3.81h-26.53zM659.16 714.80h7.58v3.81h-7.58zM681.90 714.80h7.58v3.81h-7.58zM697.06 714.80h26.53v3.81h-26.53zM662.95 711.04h7.58v3.81h-7.58zM681.90 711.04h30.32v3.81h-30.32zM716.01 711.04h3.79v3.81h-3.79zM662.95 707.28h7.58v3.81h-7.58zM681.90 707.28h26.53v3.81h-26.53zM681.90 703.52h3.79v3.81h-3.79zM681.90 699.76h3.79v3.81h-3.79zM678.11 696.00h3.79v3.81h-3.79zM681.90 692.24h3.79v3.81h-3.79zM689.48 692.24h3.79v3.81h-3.79zM678.11 688.48h18.95v3.81h-18.95zM689.48 684.72h7.58v3.81h-7.58z"/>
<path fill="#10b81c" d="M177.83 880.24h34.11v3.81h-34.11zM390.07 880.24h3.79v3.81h-3.79zM397.65 880.24h18.95v3.81h-18.95zM602.31 880.24h3.79v3.81h-3.79zM177.83 876.48h22.74v3.81h-22.74zM397.65 876.48h7.58v3.81h-7.58zM409.02 876.48h7.58v3.81h-7.58zM177.83 872.72h15.16v3.81h-15.16zM215.73 872.72h3.79v3.81h-3.79zM397.65 872.72h7.58v3.81h-7.58zM579.57 872.72h3.79v3.81h-3.79zM174.04 868.96h11.37v3.81h-11.37zM215.73 868.96h3.79v3.81h-3.79zM397.65 868.96h3.79v3.81h-3.79zM571.99 868.96h7.58v3.81h-7.58zM587.15 868.96h7.58v3.81h-7.58zM170.25 865.20h3.79v3.81h-3.79zM181.62 865.20h3.79v3.81h-3.79zM397.65 865.20h3.79v3.81h-3.79zM560.62 865.20h7.58v3.81h-7.58zM196.78 861.44h7.58v3.81h-7.58zM393.86 861.44h11.37v3.81h-11.37zM556.83 861.44h3.79v3.81h-3.79zM166.46 857.68h3.79v3.81h-3.79zM185.41 857.68h11.37v3.81h-11.37zM200.57 857.68h3.79v3.81h-3.79zM393.86 857.68h11.37v3.81h-11.37zM549.25 857.68h3.79v3.81h-3.79zM143.72 853.92h3.79v3.81h-3.79zM162.67 853.92h7.58v3.81h-7.58zM185.41 853.92h7.58v3.81h-7.58zM397.65 853.92h7.58v3.81h-7.58zM503.77 853.92h3.79v3.81h-3.79zM545.46 853.92h3.79v3.81h-3.79zM162.67 850.16h11.37v3.81h-11.37zM185.41 850.16h3.79v3.81h-3.79zM401.44 850.16h3.79v3.81h-3.79zM503.77 850.16h11.37v3.81h-11.37zM541.67 850.16h3.79v3.81h-3.79zM139.93 846.40h3.79v3.81h-3.79zM170.25 846.40h15.16v3.81h-15.16zM401.44 846.40h7.58v3.81h-7.58zM507.56 846.40h7.58v3.81h-7.58zM541.67 846.40h3.79v3.81h-3.79zM151.30 842.64h3.79v3.81h-3.79zM170.25 842.64h15.16v3.81h-15.16zM405.23 842.64h3.79v3.81h-3.79zM503.77 842.64h37.90v3.81h-37.90zM151.30 838.88h3.79v3.81h-3.79zM166.46 838.88h15.16v3.81h-15.16zM405.23 838.88h11.37v3.81h-11.37zM499.98 838.88h15.16v3.81h-15.16zM526.51 838.88h7.58v3.81h-7.58zM166.46 835.12h3.79v3.81h-3.79zM174.04 835.12h3.79v3.81h-3.79zM409.02 835.12h18.95v3.81h-18.95zM496.19 835.12h11.37v3.81h-11.37zM143.72 831.36h7.58v3.81h-7.58zM158.88 831.36h3.79v3.81h-3.79zM174.04 831.36h3.79v3.81h-3.79zM409.02 831.36h22.74v3.81h-22.74zM496.19 831.36h7.58v3.81h-7.58zM147.51 827.60h15.16v3.81h-15.16zM174.04 827.60h7.58v3.81h-7.58zM412.81 827.60h30.32v3.81h-30.32zM496.19 827.60h3.79v3.81h-3.79zM147.51 823.84h11.37v3.81h-11.37zM174.04 823.84h3.79v3.81h-3.79zM416.60 823.84h26.53v3.81h-26.53zM446.92 823.84h3.79v3.81h-3.79zM492.40 823.84h7.58v3.81h-7.58zM151.30 820.08h7.58v3.81h-7.58zM170.25 820.08h3.79v3.81h-3.79zM416.60 820.08h22.74v3.81h-22.74zM446.92 820.08h7.58v3.81h-7.58zM488.61 820.08h3.79v3.81h-3.79zM151.30 816.32h3.79v3.81h-3.79zM166.46 816.32h3.79v3.81h-3.79zM424.18 816.32h15.16v3.81h-15.16zM450.71 816.32h7.58v3.81h-7.58zM484.82 816.32h3.79v3.81h-3.79zM151.30 812.56h11.37v3.81h-11.37zM427.97 812.56h7.58v3.81h-7.58zM477.24 812.56h3.79v3.81h-3.79zM151.30 808.80h7.58v3.81h-7.58zM431.76 808.80h3.79v3.81h-3.79zM469.66 808.80h3.79v3.81h-3.79zM139.93 805.04h15.16v3.81h-15.16zM431.76 805.04h7.58v3.81h-7.58zM462.08 805.04h7.58v3.81h-7.58zM136.14 801.28h3.79v3.81h-3.79zM151.30 801.28h3.79v3.81h-3.79zM431.76 801.28h11.37v3.81h-11.37zM458.29 801.28h3.79v3.81h-3.79zM136.14 797.52h3.79v3.81h-3.79zM443.13 797.52h7.58v3.81h-7.58zM454.50 797.52h3.79v3.81h-3.79zM143.72 793.76h3.79v3.81h-3.79zM450.71 793.76h7.58v3.81h-7.58zM427.97 782.48h15.16v3.81h-15.16zM427.97 778.72h15.16v3.81h-15.16zM427.97 774.96h15.16v3.81h-15.16zM571.99 774.96h3.79v3.81h-3.79zM431.76 771.20h18.95v3.81h-18.95zM435.55 767.44h11.37v3.81h-11.37zM416.60 763.68h3.79v3.81h-3.79zM412.81 759.92h7.58v3.81h-7.58zM412.81 756.16h7.58v3.81h-7.58zM689.48 718.56h7.58v3.81h-7.58zM689.48 714.80h7.58v3.81h-7.58z"/>
<path fill="#10a418" d="M416.60 880.24h26.53v3.81h-26.53zM162.67 876.48h3.79v3.81h-3.79zM174.04 876.48h3.79v3.81h-3.79zM200.57 876.48h3.79v3.81h-3.79zM405.23 876.48h3.79v3.81h-3.79zM416.60 876.48h26.53v3.81h-26.53zM496.19 876.48h3.79v3.81h-3.79zM598.52 876.48h3.79v3.81h-3.79zM158.88 872.72h3.79v3.81h-3.79zM174.04 872.72h3.79v3.81h-3.79zM192.99 872.72h3.79v3.81h-3.79zM405.23 872.72h37.90v3.81h-37.90zM492.40 872.72h7.58v3.81h-7.58zM571.99 872.72h7.58v3.81h-7.58zM583.36 872.72h3.79v3.81h-3.79zM594.73 872.72h3.79v3.81h-3.79zM155.09 868.96h3.79v3.81h-3.79zM170.25 868.96h3.79v3.81h-3.79zM185.41 868.96h3.79v3.81h-3.79zM401.44 868.96h22.74v3.81h-22.74zM431.76 868.96h18.95v3.81h-18.95zM481.03 868.96h18.95v3.81h-18.95zM568.20 868.96h3.79v3.81h-3.79zM211.94 865.20h3.79v3.81h-3.79zM401.44 865.20h22.74v3.81h-22.74zM435.55 865.20h15.16v3.81h-15.16zM454.50 865.20h49.27v3.81h-49.27zM556.83 865.20h3.79v3.81h-3.79zM147.51 861.44h3.79v3.81h-3.79zM185.41 861.44h3.79v3.81h-3.79zM192.99 861.44h3.79v3.81h-3.79zM204.36 861.44h7.58v3.81h-7.58zM405.23 861.44h22.74v3.81h-22.74zM435.55 861.44h72.01v3.81h-72.01zM549.25 861.44h7.58v3.81h-7.58zM405.23 857.68h15.16v3.81h-15.16zM424.18 857.68h34.11v3.81h-34.11zM462.08 857.68h26.53v3.81h-26.53zM492.40 857.68h18.95v3.81h-18.95zM545.46 857.68h3.79v3.81h-3.79zM158.88 853.92h3.79v3.81h-3.79zM405.23 853.92h79.59v3.81h-79.59zM496.19 853.92h7.58v3.81h-7.58zM507.56 853.92h7.58v3.81h-7.58zM541.67 853.92h3.79v3.81h-3.79zM155.09 850.16h3.79v3.81h-3.79zM405.23 850.16h79.59v3.81h-79.59zM499.98 850.16h3.79v3.81h-3.79zM515.14 850.16h3.79v3.81h-3.79zM537.88 850.16h3.79v3.81h-3.79zM409.02 846.40h56.85v3.81h-56.85zM499.98 846.40h7.58v3.81h-7.58zM515.14 846.40h26.53v3.81h-26.53zM139.93 842.64h3.79v3.81h-3.79zM409.02 842.64h45.48v3.81h-45.48zM458.29 842.64h7.58v3.81h-7.58zM499.98 842.64h3.79v3.81h-3.79zM416.60 838.88h45.48v3.81h-45.48zM496.19 838.88h3.79v3.81h-3.79zM139.93 835.12h3.79v3.81h-3.79zM147.51 835.12h3.79v3.81h-3.79zM170.25 835.12h3.79v3.81h-3.79zM427.97 835.12h26.53v3.81h-26.53zM458.29 835.12h3.79v3.81h-3.79zM492.40 835.12h3.79v3.81h-3.79zM162.67 831.36h3.79v3.81h-3.79zM431.76 831.36h26.53v3.81h-26.53zM492.40 831.36h3.79v3.81h-3.79zM443.13 827.60h15.16v3.81h-15.16zM488.61 827.60h7.58v3.81h-7.58zM158.88 823.84h3.79v3.81h-3.79zM170.25 823.84h3.79v3.81h-3.79zM443.13 823.84h3.79v3.81h-3.79zM450.71 823.84h7.58v3.81h-7.58zM488.61 823.84h3.79v3.81h-3.79zM158.88 820.08h3.79v3.81h-3.79zM439.34 820.08h7.58v3.81h-7.58zM454.50 820.08h7.58v3.81h-7.58zM481.03 820.08h7.58v3.81h-7.58zM155.09 816.32h11.37v3.81h-11.37zM439.34 816.32h11.37v3.81h-11.37zM458.29 816.32h7.58v3.81h-7.58zM473.45 816.32h11.37v3.81h-11.37zM435.55 812.56h41.69v3.81h-41.69zM435.55 808.80h7.58v3.81h-7.58zM446.92 808.80h22.74v3.81h-22.74zM439.34 805.04h22.74v3.81h-22.74zM443.13 801.28h15.16v3.81h-15.16zM450.71 797.52h3.79v3.81h-3.79z"/>
<path fill="#109014" d="M174.04 880.24h3.79v3.81h-3.79zM443.13 880.24h11.37v3.81h-11.37zM488.61 880.24h15.16v3.81h-15.16zM571.99 880.24h15.16v3.81h-15.16zM204.36 876.48h11.37v3.81h-11.37zM443.13 876.48h22.74v3.81h-22.74zM488.61 876.48h7.58v3.81h-7.58zM499.98 876.48h3.79v3.81h-3.79zM571.99 876.48h15.16v3.81h-15.16zM196.78 872.72h7.58v3.81h-7.58zM211.94 872.72h3.79v3.81h-3.79zM443.13 872.72h49.27v3.81h-49.27zM499.98 872.72h7.58v3.81h-7.58zM564.41 872.72h7.58v3.81h-7.58zM587.15 872.72h7.58v3.81h-7.58zM189.20 868.96h7.58v3.81h-7.58zM211.94 868.96h3.79v3.81h-3.79zM424.18 868.96h7.58v3.81h-7.58zM450.71 868.96h30.32v3.81h-30.32zM499.98 868.96h7.58v3.81h-7.58zM556.83 868.96h11.37v3.81h-11.37zM151.30 865.20h3.79v3.81h-3.79zM185.41 865.20h3.79v3.81h-3.79zM192.99 865.20h11.37v3.81h-11.37zM208.15 865.20h3.79v3.81h-3.79zM424.18 865.20h11.37v3.81h-11.37zM450.71 865.20h3.79v3.81h-3.79zM503.77 865.20h3.79v3.81h-3.79zM553.04 865.20h3.79v3.81h-3.79zM166.46 861.44h3.79v3.81h-3.79zM189.20 861.44h3.79v3.81h-3.79zM427.97 861.44h7.58v3.81h-7.58zM507.56 861.44h3.79v3.81h-3.79zM545.46 861.44h3.79v3.81h-3.79zM420.39 857.68h3.79v3.81h-3.79zM458.29 857.68h3.79v3.81h-3.79zM488.61 857.68h3.79v3.81h-3.79zM511.35 857.68h3.79v3.81h-3.79zM484.82 853.92h11.37v3.81h-11.37zM515.14 853.92h3.79v3.81h-3.79zM143.72 850.16h3.79v3.81h-3.79zM484.82 850.16h15.16v3.81h-15.16zM518.93 850.16h18.95v3.81h-18.95zM151.30 846.40h3.79v3.81h-3.79zM465.87 846.40h34.11v3.81h-34.11zM454.50 842.64h3.79v3.81h-3.79zM465.87 842.64h34.11v3.81h-34.11zM139.93 838.88h3.79v3.81h-3.79zM147.51 838.88h3.79v3.81h-3.79zM462.08 838.88h11.37v3.81h-11.37zM481.03 838.88h15.16v3.81h-15.16zM143.72 835.12h3.79v3.81h-3.79zM454.50 835.12h3.79v3.81h-3.79zM462.08 835.12h11.37v3.81h-11.37zM481.03 835.12h11.37v3.81h-11.37zM166.46 831.36h7.58v3.81h-7.58zM458.29 831.36h15.16v3.81h-15.16zM481.03 831.36h11.37v3.81h-11.37zM162.67 827.60h3.79v3.81h-3.79zM170.25 827.60h3.79v3.81h-3.79zM458.29 827.60h30.32v3.81h-30.32zM458.29 823.84h30.32v3.81h-30.32zM162.67 820.08h7.58v3.81h-7.58zM462.08 820.08h18.95v3.81h-18.95zM465.87 816.32h7.58v3.81h-7.58zM443.13 808.80h3.79v3.81h-3.79zM139.93 801.28h3.79v3.81h-3.79zM147.51 801.28h3.79v3.81h-3.79zM139.93 797.52h3.79v3.81h-3.79zM147.51 797.52h3.79v3.81h-3.79z"/>
<path fill="#0c7810" d="M166.46 880.24h7.58v3.81h-7.58zM454.50 880.24h34.11v3.81h-34.11zM587.15 880.24h3.79v3.81h-3.79zM598.52 880.24h3.79v3.81h-3.79zM166.46 876.48h7.58v3.81h-7.58zM465.87 876.48h22.74v3.81h-22.74zM503.77 876.48h3.79v3.81h-3.79zM568.20 876.48h3.79v3.81h-3.79zM587.15 876.48h3.79v3.81h-3.79zM594.73 876.48h3.79v3.81h-3.79zM162.67 872.72h3.79v3.81h-3.79zM170.25 872.72h3.79v3.81h-3.79zM204.36 872.72h7.58v3.81h-7.58zM507.56 872.72h3.79v3.81h-3.79zM560.62 872.72h3.79v3.81h-3.79zM158.88 868.96h3.79v3.81h-3.79zM196.78 868.96h15.16v3.81h-15.16zM507.56 868.96h3.79v3.81h-3.79zM553.04 868.96h3.79v3.81h-3.79zM155.09 865.20h3.79v3.81h-3.79zM166.46 865.20h3.79v3.81h-3.79zM189.20 865.20h3.79v3.81h-3.79zM204.36 865.20h3.79v3.81h-3.79zM507.56 865.20h3.79v3.81h-3.79zM549.25 865.20h3.79v3.81h-3.79zM511.35 861.44h3.79v3.81h-3.79zM147.51 857.68h3.79v3.81h-3.79zM158.88 857.68h7.58v3.81h-7.58zM515.14 857.68h7.58v3.81h-7.58zM537.88 857.68h7.58v3.81h-7.58zM147.51 853.92h3.79v3.81h-3.79zM155.09 853.92h3.79v3.81h-3.79zM518.93 853.92h22.74v3.81h-22.74zM151.30 850.16h3.79v3.81h-3.79zM143.72 846.40h3.79v3.81h-3.79zM143.72 842.64h7.58v3.81h-7.58zM473.45 838.88h7.58v3.81h-7.58zM473.45 835.12h7.58v3.81h-7.58zM473.45 831.36h7.58v3.81h-7.58zM166.46 827.60h3.79v3.81h-3.79zM162.67 823.84h7.58v3.81h-7.58zM143.72 801.28h3.79v3.81h-3.79zM143.72 797.52h3.79v3.81h-3.79z"/>
<path fill="#0c6010" d="M503.77 880.24h3.79v3.81h-3.79zM568.20 880.24h3.79v3.81h-3.79zM590.94 880.24h7.58v3.81h-7.58zM507.56 876.48h3.79v3.81h-3.79zM564.41 876.48h3.79v3.81h-3.79zM590.94 876.48h3.79v3.81h-3.79zM166.46 872.72h3.79v3.81h-3.79zM556.83 872.72h3.79v3.81h-3.79zM162.67 868.96h7.58v3.81h-7.58zM511.35 868.96h3.79v3.81h-3.79zM549.25 868.96h3.79v3.81h-3.79zM158.88 865.20h7.58v3.81h-7.58zM511.35 865.20h7.58v3.81h-7.58zM545.46 865.20h3.79v3.81h-3.79zM151.30 861.44h15.16v3.81h-15.16zM515.14 861.44h7.58v3.81h-7.58zM537.88 861.44h7.58v3.81h-7.58zM151.30 857.68h7.58v3.81h-7.58zM522.72 857.68h15.16v3.81h-15.16zM151.30 853.92h3.79v3.81h-3.79zM147.51 850.16h3.79v3.81h-3.79zM147.51 846.40h3.79v3.81h-3.79zM143.72 838.88h3.79v3.81h-3.79z"/>
<path fill="#487810" d="M507.56 880.24h3.79v3.81h-3.79zM564.41 880.24h3.79v3.81h-3.79zM511.35 876.48h3.79v3.81h-3.79zM560.62 876.48h3.79v3.81h-3.79zM511.35 872.72h3.79v3.81h-3.79zM515.14 868.96h7.58v3.81h-7.58zM545.46 868.96h3.79v3.81h-3.79zM518.93 865.20h7.58v3.81h-7.58zM541.67 865.20h3.79v3.81h-3.79zM522.72 861.44h15.16v3.81h-15.16z"/>
<path fill="#b0b010" d="M511.35 880.24h3.79v3.81h-3.79zM560.62 880.24h3.79v3.81h-3.79zM556.83 876.48h3.79v3.81h-3.79zM515.14 872.72h7.58v3.81h-7.58zM549.25 872.72h7.58v3.81h-7.58zM522.72 868.96h7.58v3.81h-7.58zM541.67 868.96h3.79v3.81h-3.79zM526.51 865.20h15.16v3.81h-15.16z"/>
<path fill="#ffd800" d="M515.14 880.24h15.16v3.81h-15.16zM545.46 880.24h15.16v3.81h-15.16zM515.14 876.48h18.95v3.81h-18.95zM545.46 876.48h11.37v3.81h-11.37zM522.72 872.72h11.37v3.81h-11.37zM541.67 872.72h7.58v3.81h-7.58zM530.30 868.96h11.37v3.81h-11.37z"/>
<path fill="#ffb808" d="M530.30 880.24h15.16v3.81h-15.16zM534.09 876.48h11.37v3.81h-11.37zM534.09 872.72h7.58v3.81h-7.58z"/>
</g>
<path d="M137.50 37.5V884.0M261.50 37.5V884.0M385.50 37.5V884.0M509.50 37.5V884.0M633.50 37.5V884.0M757.50 37.5V884.0M75.5 37.50H757.5M75.5 131.50H757.5M75.5 225.50H757.5M75.5 319.50H757.5M75.5 413.50H757.5M75.5 507.50H757.5M75.5 601.50H757.5M75.5 695.50H757.5M75.5 789.50H757.5M75.5 884.50H757.5" fill="none" stroke="#808080" stroke-opacity="0.55" stroke-width="0.7" stroke-dasharray="2.6 1.1"/>
<g clip-path="url(#ax)" fill="none" stroke="#000" stroke-width="1.7" stroke-linejoin="round" stroke-linecap="round">
<path d="M327.7 37.9 L327.3 41.2 L324.9 42.9 L322.7 44.9 L320.8 48.0 L317.8 49.8 L319.7 52.2 L322.7 53.2 L325.7 53.8 L324.7 56.6 L323.3 59.2 L321.7 61.7 L320.6 64.9 L317.8 66.7 L316.8 70.6 L311.8 72.0 L310.4 74.3 L308.8 76.6 L307.3 79.2 L305.9 81.9 L303.5 83.5 L300.9 84.5 L299.5 87.0 L297.9 89.5 L297.8 92.5 L297.8 95.4 L298.3 98.4 L300.5 100.1 L300.9 103.0 L302.9 106.4 L306.9 106.3 L308.4 108.7 L310.8 110.3 L310.5 114.0 L312.2 117.2 L311.5 119.8 L310.7 122.4 L309.4 124.8 L309.8 127.1 L312.7 126.4 L315.8 126.1 L320.7 124.8 L323.9 122.8 L325.7 119.6 L329.3 117.6 L330.9 119.7 L332.6 121.6 L334.3 123.6 L336.5 125.2 L338.6 126.7 L343.5 126.1 L346.5 125.9 L349.5 125.6 L352.0 124.5 L354.4 123.2 L358.4 126.1 L362.4 128.7 L365.7 127.4 L369.3 127.5 L372.8 127.2 L376.2 126.5 L379.7 127.3 L383.2 127.1 L386.0 126.7 L388.7 127.7"/>
<path d="M388.7 127.7 L391.1 123.2 L388.1 119.2 L385.0 118.1 L383.2 115.2 L381.2 113.5 L379.2 111.7 L381.6 109.3 L384.5 109.2 L387.1 110.3 L389.0 108.4 L390.7 106.3 L391.5 101.4 L389.1 97.4 L393.1 94.4 L397.5 95.2 L400.0 91.5 L404.0 94.4 L404.6 91.4 L405.4 88.5 L406.8 86.2 L407.0 83.5 L405.0 81.4 L405.0 78.6 L405.3 75.6 L406.0 72.6 L407.7 69.8 L408.5 66.7 L405.8 66.2 L403.0 65.7 L400.6 64.6 L398.0 64.1 L395.6 62.8 L393.1 61.7 L389.1 59.7 L388.7 54.8 L387.1 52.8 L388.0 49.9 L390.1 47.8 L391.5 45.5 L392.1 42.9 L388.6 43.5 L385.2 42.9 L381.9 42.0 L379.2 43.9 L375.2 41.9 L371.3 40.9 L368.4 42.3 L365.3 42.9 L362.2 43.7 L359.4 45.5 L358.4 42.9 L360.1 40.4 L361.8 37.9"/>
<path d="M388.7 127.7 L391.4 129.9 L390.1 133.1 L391.2 136.7 L393.1 140.0 L395.1 142.0 L394.7 138.0 L397.9 138.8 L401.0 140.0 L404.4 140.9 L408.0 141.4 L410.8 140.1 L413.9 140.6 L416.2 143.4 L416.9 147.0 L418.2 149.3 L419.2 151.7 L420.8 153.9 L423.0 155.7 L422.0 159.4 L424.8 160.8 L426.3 163.8 L427.8 166.8 L428.8 171.7 L429.6 174.3 L429.8 177.1 L431.1 176.3"/>
<path d="M429.2 176.4 L432.9 174.8 L436.2 175.2 L439.5 175.1 L442.7 176.1 L446.1 176.8 L448.7 176.9 L451.4 176.8 L452.0 179.7 L449.4 183.0 L446.9 187.2 L443.6 190.5 L441.8 192.5 L439.5 193.8 L437.9 196.4 L435.3 197.9 L431.5 200.4 L429.1 203.7 L429.6 208.6 L431.6 210.5 L433.2 212.8 L432.5 216.1 L434.5 218.1 L437.0 219.4 L439.5 223.5 L441.5 226.8 L446.1 224.7 L449.5 225.5 L452.7 224.0 L455.9 225.3 L459.3 225.2 L462.5 226.4 L465.9 226.0 L470.0 229.0 L472.2 230.1 L469.5 233.4 L469.5 236.4 L470.5 239.2 L473.0 240.7 L475.8 241.2 L478.6 242.5 L478.7 245.4 L479.1 248.3 L477.7 250.6 L477.5 253.2 L476.6 258.2 L474.3 260.6 L474.5 264.0 L472.7 267.0 L470.5 269.8 L472.7 271.5 L474.2 273.9 L474.6 277.1 L477.5 278.5 L481.6 281.3 L483.5 283.7 L485.7 285.8 L485.4 290.7 L482.5 290.9 L479.9 292.4 L477.1 293.3 L475.0 295.4"/>
<path d="M477.0 295.6 L474.4 296.9 L471.9 295.8 L470.8 293.0 L468.5 291.6 L465.5 292.0 L462.6 292.4 L461.1 294.7 L459.6 296.9 L457.7 299.3 L458.6 302.3 L457.6 304.9 L456.6 309.8 L453.4 310.8 L450.7 312.8 L447.9 313.2 L445.3 314.0 L442.7 314.8 L440.0 317.2 L436.8 318.7 L435.2 321.4 L433.2 323.7 L430.8 325.7 L427.9 326.7 L426.9 330.6 L429.3 332.3 L431.2 334.6 L433.2 337.5 L431.1 340.6 L431.8 343.5 L428.9 345.9 L426.1 347.5 L422.9 347.1 L419.9 350.5 L418.9 355.4"/>
<path d="M418.9 355.4 L416.0 353.4 L414.1 351.4 L412.0 349.5 L409.1 348.6 L406.1 348.1 L404.7 350.6 L404.1 353.4 L401.0 352.5 L398.1 353.8 L395.1 352.8 L392.8 350.5 L392.0 347.8 L391.2 345.1 L388.1 345.3 L385.2 346.5 L381.8 347.6 L378.3 348.5 L379.0 351.6 L376.3 353.4 L375.1 356.3 L373.3 359.0 L374.3 362.4 L370.9 364.3 L368.4 367.3 L366.3 369.4 L363.7 370.5 L361.1 371.7 L360.1 374.4 L359.5 377.2 L356.7 379.6 L357.5 383.2 L354.5 384.6 L351.9 386.7 L350.9 389.4 L350.0 392.1 L349.1 395.5 L350.6 398.6 L349.1 401.8 L347.6 405.0 L344.2 405.9 L342.6 408.9 L342.6 413.9 L345.0 416.6 L346.6 419.8 L344.6 422.8 L341.7 424.0 L338.7 424.4 L336.7 427.2 L333.9 427.1 L331.3 428.2 L329.5 431.2 L329.7 434.7 L328.3 437.5 L327.5 440.6 L326.8 443.6 L325.5 447.0 L322.2 448.6 L324.8 453.0 L327.5 453.8 L329.7 455.5 L332.7 458.9 L329.7 462.5 L327.5 464.3 L324.8 465.4 L323.8 470.0"/>
<path d="M418.9 355.4 L422.5 356.4 L421.9 361.4 L418.5 362.4 L416.0 360.4 L417.0 356.4 L418.9 355.4"/>
<path d="M418.5 362.4 L418.1 365.9 L417.0 369.3 L416.9 372.4 L418.0 375.2 L416.4 378.2 L415.0 381.2 L416.0 386.1 L415.2 388.7 L414.0 391.1 L415.4 394.1 L417.0 397.0 L418.2 400.2 L419.9 403.0 L418.9 407.0 L419.3 410.6 L420.9 413.9 L424.1 416.1 L426.9 418.9 L427.7 421.5 L429.2 423.9 L428.9 426.8 L430.8 424.8 L430.7 427.7 L432.8 429.8 L435.4 431.8 L438.8 431.7 L440.1 434.7 L441.1 437.7 L441.7 440.6 L442.5 443.6 L441.7 446.6 L443.3 449.4"/>
<path d="M323.6 469.8 L323.5 472.4 L323.8 475.1 L323.0 477.8 L324.1 480.4 L325.3 484.1 L325.3 488.0 L328.4 490.0 L331.7 491.8 L333.4 494.3 L335.5 496.5 L336.7 499.4 L338.6 501.6 L339.3 504.4 L340.5 507.0 L342.4 509.5 L342.8 512.7 L344.3 515.4 L347.3 515.9 L350.5 515.4 L353.2 517.1 L355.4 520.1 L357.0 523.5 L355.0 525.6 L355.5 528.8 L353.7 531.1 L355.7 533.4 L357.0 536.1 L360.4 536.2 L362.8 538.7 L362.0 541.6 L362.7 544.6 L362.1 547.5 L359.8 549.4 L357.0 550.1 L357.1 553.6 L354.0 555.8 L353.2 558.9 L351.8 562.4 L349.4 565.3 L351.7 568.1 L354.5 570.3 L353.9 573.3 L351.8 575.1 L349.4 576.7 L347.1 578.7 L344.7 580.6 L341.8 581.7 L339.3 584.3"/>
<path d="M476.6 614.6 L477.2 611.5 L477.5 608.3 L477.1 605.1 L476.6 602.0 L477.5 598.3 L475.3 595.2 L474.8 591.9 L475.3 589.3 L475.3 586.6 L476.6 584.2 L477.3 581.7 L477.0 578.9 L478.6 576.7 L475.5 575.8 L474.3 572.9 L476.9 570.0 L478.6 566.5 L481.5 565.2 L483.2 562.7 L484.9 560.2 L487.4 558.7 L488.4 556.1 L490.0 553.9 L490.4 551.1 L491.9 548.8 L492.6 546.2 L493.8 543.7 L491.8 541.6 L491.2 538.7 L492.5 535.6 L494.7 533.6 L497.6 532.3 L499.3 530.2 L501.0 528.2 L502.6 526.0 L504.5 523.6 L507.6 522.5 L509.0 519.7 L511.5 517.1 L510.4 513.9 L509.0 510.8 L510.0 507.7 L510.2 504.5 L512.3 501.9 L512.2 498.3 L514.0 495.6 L513.2 491.6 L515.3 488.0 L516.6 484.2 L513.9 484.3 L511.5 485.5 L508.7 484.0 L506.4 481.7 L504.1 480.1 L501.4 480.4 L498.1 481.7 L495.0 483.4 L492.1 481.8 L488.7 481.7 L487.0 479.1 L483.4 478.5 L482.4 475.3 L480.6 472.8 L477.8 471.5 L476.0 469.0 L473.7 470.4 L471.1 471.0 L468.4 471.5 L467.0 468.1 L464.6 465.2 L463.0 463.0 L460.9 461.2 L458.3 460.1 L455.1 459.7 L453.0 457.5 L450.7 455.6 L447.1 455.2 L445.6 451.9 L443.1 450.0"/>
<path d="M476.2 614.2 L479.7 614.5 L483.2 613.8 L485.8 612.5 L488.6 611.9 L490.9 610.3 L494.2 611.3 L496.4 613.8 L499.5 616.1 L503.0 617.5 L505.6 618.5 L507.4 620.5 L509.6 621.9 L511.7 624.4 L515.7 623.3 L517.4 626.3 L520.3 628.9 L522.9 631.9 L522.2 634.6 L521.8 637.4 L523.0 640.3 L526.0 641.3 L528.4 642.9 L529.7 646.3 L532.8 648.4 L533.9 652.8 L531.0 653.6 L528.4 655.0 L525.1 656.1 L527.2 658.5 L528.4 661.6 L531.7 663.8 L532.8 668.2 L534.9 669.9 L536.6 672.1 L538.7 673.9 L540.5 675.9 L542.3 678.2 L544.5 680.1 L547.1 681.4 L548.5 684.2 L551.5 684.7 L550.2 687.4 L549.3 690.2 L552.0 693.0 L554.8 695.7 L555.1 698.8 L555.3 701.8 L557.0 704.5 L559.5 705.9 L562.5 705.8 L564.7 707.8 L565.5 710.7 L566.9 713.3 L566.1 716.0 L564.9 718.4 L562.5 720.0 L563.2 723.3 L565.8 725.5 L568.7 726.3 L571.3 727.7 L575.2 727.4 L579.0 726.6 L581.3 728.4 L584.2 728.8 L586.7 729.9 L589.3 730.7 L592.2 730.2 L594.4 732.1 L595.7 729.4 L596.7 726.6 L598.0 723.9 L598.9 721.1 L597.1 718.0 L594.4 715.6 L593.3 712.9 L593.3 710.0 L596.1 709.2 L597.8 706.7 L601.1 706.9 L603.7 708.8 L606.6 710.0 L609.5 708.6 L612.1 706.4 L615.4 705.6 L617.3 707.5 L620.7 707.3 L622.0 710.0 L624.8 712.6 L628.6 712.2 L630.3 714.5 L633.0 715.1 L635.2 716.7 L638.6 716.8 L641.8 717.8 L642.4 720.8 L640.8 723.6 L640.7 726.6 L641.2 729.7 L643.3 732.3 L644.0 735.4 L646.1 738.4 L646.1 741.8 L646.2 745.3 L649.5 746.8 L652.4 744.6"/>
<path d="M528.4 655.0 L532.8 656.1 L531.4 659.8 L531.7 663.8"/>
<path d="M652.4 741.7 L654.7 737.0 L653.9 732.4 L658.5 730.6 L661.3 732.4 L659.8 736.3 L664.7 737.0 L667.0 740.9 L669.8 741.8 L672.4 743.2 L677.0 740.9 L680.1 741.7 L682.4 746.0 L684.6 744.5 L686.3 742.4 L689.6 743.0 L692.5 741.4 L695.5 742.3 L698.6 742.4 L703.3 743.2 L705.6 746.0 L708.7 742.4 L709.4 739.3 L711.7 737.0 L714.4 735.6 L717.1 734.3 L719.8 733.5 L722.5 733.7 L723.6 729.3 L725.9 727.0 L724.8 723.9 L727.6 722.0 L731.0 722.4 L734.6 722.8 L738.0 721.3 L741.0 720.7 L744.1 720.4 L743.3 723.9 L741.0 726.3 L744.5 726.8 L748.0 727.0 L750.9 725.9 L754.1 725.9 L756.9 726.3 L755.4 729.2 L756.5 732.4 L756.9 735.2 L755.7 737.8 L757.2 739.4"/>
<path d="M75.5 368.6 L77.8 365.6 L78.8 362.0 L81.6 360.9 L83.3 358.0 L86.5 357.6 L88.4 354.6 L90.9 352.1 L93.1 349.9 L95.3 354.3 L98.7 354.5 L101.9 355.1 L105.2 355.4 L108.5 359.4 L111.4 361.4 L108.8 363.8 L106.3 366.4 L106.0 369.8 L105.2 373.0 L104.6 375.8 L104.1 378.5 L99.7 376.3 L97.5 380.7 L98.0 383.5 L97.5 386.3 L95.7 388.4 L93.1 389.6 L94.2 394.0 L96.9 397.3 L94.0 400.0 L93.1 403.9 L92.5 406.8 L92.1 409.7 L92.0 412.7 L92.3 415.8 L90.3 418.2 L88.1 420.2 L85.9 421.9 L84.8 424.9 L85.0 428.1 L88.8 428.3 L92.0 430.3 L95.1 432.2 L98.6 432.5 L101.1 435.1 L103.0 438.0 L105.2 441.0 L107.9 443.5 L108.3 446.3 L108.5 449.0 L107.3 451.9 L105.5 454.6 L105.2 457.8 L104.0 460.7 L101.3 462.7 L100.8 466.0 L102.0 469.0 L101.9 472.2 L104.8 474.8 L105.7 478.4 L105.2 482.1 L103.6 484.8 L103.8 488.2 L101.9 490.9 L106.3 492.0 L109.0 492.2 L111.3 493.7 L114.1 493.5 L116.8 493.9 L118.9 491.2 L121.8 492.0 L125.1 488.7 L128.4 488.9 L131.7 489.8 L135.0 488.2 L136.1 491.1 L138.8 492.8 L140.5 495.3 L144.0 496.5 L147.1 498.6 L149.8 499.9 L152.7 500.8 L154.8 503.0 L159.9 501.9 L161.7 504.7 L163.2 507.7 L164.7 510.7 L166.5 513.4 L168.0 516.2 L169.1 520.6 L172.4 521.7 L176.8 519.5 L176.7 522.7 L178.5 525.3 L179.0 528.3 L182.8 526.9 L186.7 527.7 L189.8 529.3 L193.3 529.4 L196.2 528.8 L198.9 529.9 L203.3 527.7 L205.3 529.3 L207.0 531.4 L208.8 533.4 L211.5 535.2 L214.4 536.8 L216.5 539.3"/>
<path d="M215.9 539.7 L218.0 541.4 L219.8 543.3 L217.5 545.1 L215.9 547.7 L214.6 550.3 L212.9 552.6 L214.7 555.1 L215.9 558.0 L220.8 556.6 L222.2 554.3 L223.4 552.0 L227.0 552.1 L229.7 554.6 L232.4 557.1 L235.7 558.6 L237.7 561.4 L240.6 563.1 L243.0 565.5 L244.6 568.5 L245.8 571.9 L246.6 575.4 L249.2 578.4 L247.6 582.4 L250.6 586.3 L253.1 590.3 L251.0 592.5 L249.6 595.2 L251.9 598.2 L253.9 602.2 L257.5 599.6 L260.2 597.7 L263.4 598.2 L268.4 596.8 L270.1 593.7 L273.3 592.3 L277.3 590.3 L280.1 591.9 L283.3 591.7 L286.2 595.6 L288.6 598.8 L290.2 594.3 L291.2 589.3 L293.9 587.8 L295.2 584.9 L297.9 583.8 L300.1 581.8 L303.1 582.6 L306.1 583.3 L309.0 584.7 L312.0 585.7 L315.1 586.5 L318.0 584.9 L320.9 585.3 L324.9 584.3 L325.3 579.4 L328.5 577.8 L331.0 578.8 L333.2 580.4 L335.7 582.6 L338.8 583.7 L340.4 585.3"/>
<path d="M340.4 585.3 L342.9 586.8 L345.7 586.3 L345.7 591.3 L347.7 595.2 L349.1 597.8 L351.7 599.2 L354.9 601.0 L358.6 601.6 L361.6 601.8 L364.5 600.8 L368.0 601.2 L371.5 601.6 L374.3 603.3 L377.4 604.2 L378.4 609.1"/>
<path d="M378.5 609.6 L380.0 612.4 L379.9 615.6 L381.1 618.4 L384.1 617.0 L387.4 617.2 L389.8 618.5 L392.4 619.1 L395.0 619.7 L397.8 617.5 L400.1 614.6 L402.8 614.6 L405.1 615.9 L408.0 616.5 L410.2 618.4 L409.4 615.0 L411.5 612.1 L413.8 610.0 L416.5 608.3 L417.8 604.0 L420.6 601.9 L424.1 602.0 L426.7 598.9 L430.0 597.7 L433.4 598.6 L436.8 598.2 L440.7 599.2 L444.4 597.7 L446.8 598.9 L449.8 597.4 L452.0 599.4 L454.1 601.8 L455.8 604.5 L458.0 606.9 L460.8 608.3 L463.8 610.0 L467.2 610.8 L469.8 611.9 L471.5 614.8 L474.8 614.6 L476.6 615.9"/>
</g>
<circle cx="436.4" cy="554.4" r="4.75" fill="#000"/>
<rect x="75.5" y="37.5" width="682.0" height="846.5" fill="none" stroke="#000" stroke-width="1.1"/>
<path d="M137.50 884.0v4.9M261.50 884.0v4.9M385.50 884.0v4.9M509.50 884.0v4.9M633.50 884.0v4.9M757.50 884.0v4.9M75.5 37.50h-4.9M75.5 131.56h-4.9M75.5 225.61h-4.9M75.5 319.67h-4.9M75.5 413.72h-4.9M75.5 507.78h-4.9M75.5 601.83h-4.9M75.5 695.89h-4.9M75.5 789.94h-4.9M75.5 884.00h-4.9" fill="none" stroke="#000" stroke-width="1.1"/>
<text x="137.50" y="901.8" font-size="11.11" text-anchor="middle">5.0</text>
<text x="261.50" y="901.8" font-size="11.11" text-anchor="middle">5.5</text>
<text x="385.50" y="901.8" font-size="11.11" text-anchor="middle">6.0</text>
<text x="509.50" y="901.8" font-size="11.11" text-anchor="middle">6.5</text>
<text x="633.50" y="901.8" font-size="11.11" text-anchor="middle">7.0</text>
<text x="757.50" y="901.8" font-size="11.11" text-anchor="middle">7.5</text>
<text x="65.8" y="41.70" font-size="11.11" text-anchor="end">51.00</text>
<text x="65.8" y="135.76" font-size="11.11" text-anchor="end">50.75</text>
<text x="65.8" y="229.81" font-size="11.11" text-anchor="end">50.50</text>
<text x="65.8" y="323.87" font-size="11.11" text-anchor="end">50.25</text>
<text x="65.8" y="417.92" font-size="11.11" text-anchor="end">50.00</text>
<text x="65.8" y="511.98" font-size="11.11" text-anchor="end">49.75</text>
<text x="65.8" y="606.03" font-size="11.11" text-anchor="end">49.50</text>
<text x="65.8" y="700.09" font-size="11.11" text-anchor="end">49.25</text>
<text x="65.8" y="794.14" font-size="11.11" text-anchor="end">49.00</text>
<text x="65.8" y="888.20" font-size="11.11" text-anchor="end">48.75</text>
<text x="371.4" y="923.6" font-size="16.67">Longitude</text>
<text transform="translate(24.7 497.6) rotate(-90)" font-size="16.67">Latitude</text>
<text x="416.5" y="28.9" font-size="25" text-anchor="middle">18.02.2026 12:20 UTC</text>
<rect x="81.6" y="48.4" width="222.9" height="40.9" fill="#fff" fill-opacity="0.9" stroke="#000" stroke-width="1.1"/>
<text x="85.9" y="65.1" font-size="13.89">Product: Maximum Reflectivity</text>
<text x="85.9" y="81.8" font-size="13.89">Data: OPERA/EUMETNET</text>
<rect x="800.5" y="813.99" width="38.0" height="27.51" fill="#6878ae" shape-rendering="crispEdges"/>
<rect x="800.5" y="786.78" width="38.0" height="27.51" fill="#5668a8" shape-rendering="crispEdges"/>
<rect x="800.5" y="759.57" width="38.0" height="27.51" fill="#4660a8" shape-rendering="crispEdges"/>
<rect x="800.5" y="732.36" width="38.0" height="27.51" fill="#4c7cb8" shape-rendering="crispEdges"/>
<rect x="800.5" y="705.15" width="38.0" height="27.51" fill="#5ca0cc" shape-rendering="crispEdges"/>
<rect x="800.5" y="677.94" width="38.0" height="27.51" fill="#64c0dc" shape-rendering="crispEdges"/>
<rect x="800.5" y="650.73" width="38.0" height="27.51" fill="#60d4c0" shape-rendering="crispEdges"/>
<rect x="800.5" y="623.51" width="38.0" height="27.51" fill="#3cd470" shape-rendering="crispEdges"/>
<rect x="800.5" y="596.30" width="38.0" height="27.51" fill="#10c81c" shape-rendering="crispEdges"/>
<rect x="800.5" y="569.09" width="38.0" height="27.51" fill="#10b81c" shape-rendering="crispEdges"/>
<rect x="800.5" y="541.88" width="38.0" height="27.51" fill="#10a418" shape-rendering="crispEdges"/>
<rect x="800.5" y="514.67" width="38.0" height="27.51" fill="#109014" shape-rendering="crispEdges"/>
<rect x="800.5" y="487.46" width="38.0" height="27.51" fill="#0c7810" shape-rendering="crispEdges"/>
<rect x="800.5" y="460.25" width="38.0" height="27.51" fill="#0c6010" shape-rendering="crispEdges"/>
<rect x="800.5" y="433.04" width="38.0" height="27.51" fill="#487810" shape-rendering="crispEdges"/>
<rect x="800.5" y="405.83" width="38.0" height="27.51" fill="#b0b010" shape-rendering="crispEdges"/>
<rect x="800.5" y="378.62" width="38.0" height="27.51" fill="#ffd800" shape-rendering="crispEdges"/>
<rect x="800.5" y="351.41" width="38.0" height="27.51" fill="#ffb808" shape-rendering="crispEdges"/>
<rect x="800.5" y="324.20" width="38.0" height="27.51" fill="#ff9c08" shape-rendering="crispEdges"/>
<rect x="800.5" y="296.99" width="38.0" height="27.51" fill="#ff8000" shape-rendering="crispEdges"/>
<rect x="800.5" y="269.77" width="38.0" height="27.51" fill="#e80000" shape-rendering="crispEdges"/>
<rect x="800.5" y="242.56" width="38.0" height="27.51" fill="#c00404" shape-rendering="crispEdges"/>
<rect x="800.5" y="215.35" width="38.0" height="27.51" fill="#a00404" shape-rendering="crispEdges"/>
<rect x="800.5" y="188.14" width="38.0" height="27.51" fill="#780000" shape-rendering="crispEdges"/>
<rect x="800.5" y="160.93" width="38.0" height="27.51" fill="#ffdcff" shape-rendering="crispEdges"/>
<rect x="800.5" y="133.72" width="38.0" height="27.51" fill="#ffb0ff" shape-rendering="crispEdges"/>
<rect x="800.5" y="106.51" width="38.0" height="27.51" fill="#ff68ff" shape-rendering="crispEdges"/>
<rect x="800.5" y="79.30" width="38.0" height="27.51" fill="#e830f0" shape-rendering="crispEdges"/>
<rect x="800.5" y="79.3" width="38.0" height="761.9000000000001" fill="none" stroke="#000" stroke-width="1.1"/>
<path d="M838.5 841.20h4.9" stroke="#000" stroke-width="1.1"/>
<text x="849.1" y="848.60" font-size="18.06">0</text>
<path d="M838.5 732.36h4.9" stroke="#000" stroke-width="1.1"/>
<text x="849.1" y="739.76" font-size="18.06">10</text>
<path d="M838.5 623.51h4.9" stroke="#000" stroke-width="1.1"/>
<text x="849.1" y="630.91" font-size="18.06">20</text>
<path d="M838.5 514.67h4.9" stroke="#000" stroke-width="1.1"/>
<text x="849.1" y="522.07" font-size="18.06">30</text>
<path d="M838.5 405.83h4.9" stroke="#000" stroke-width="1.1"/>
<text x="849.1" y="413.23" font-size="18.06">40</text>
<path d="M838.5 296.99h4.9" stroke="#000" stroke-width="1.1"/>
<text x="849.1" y="304.39" font-size="18.06">50</text>
<path d="M838.5 188.14h4.9" stroke="#000" stroke-width="1.1"/>
<text x="849.1" y="195.54" font-size="18.06">60</text>
<path d="M838.5 79.30h4.9" stroke="#000" stroke-width="1.1"/>
<text x="849.1" y="86.70" font-size="18.06">70</text>
<text transform="translate(895 484.6) rotate(-90)" font-size="22.22">dBZ</text>
</svg></body></html>
